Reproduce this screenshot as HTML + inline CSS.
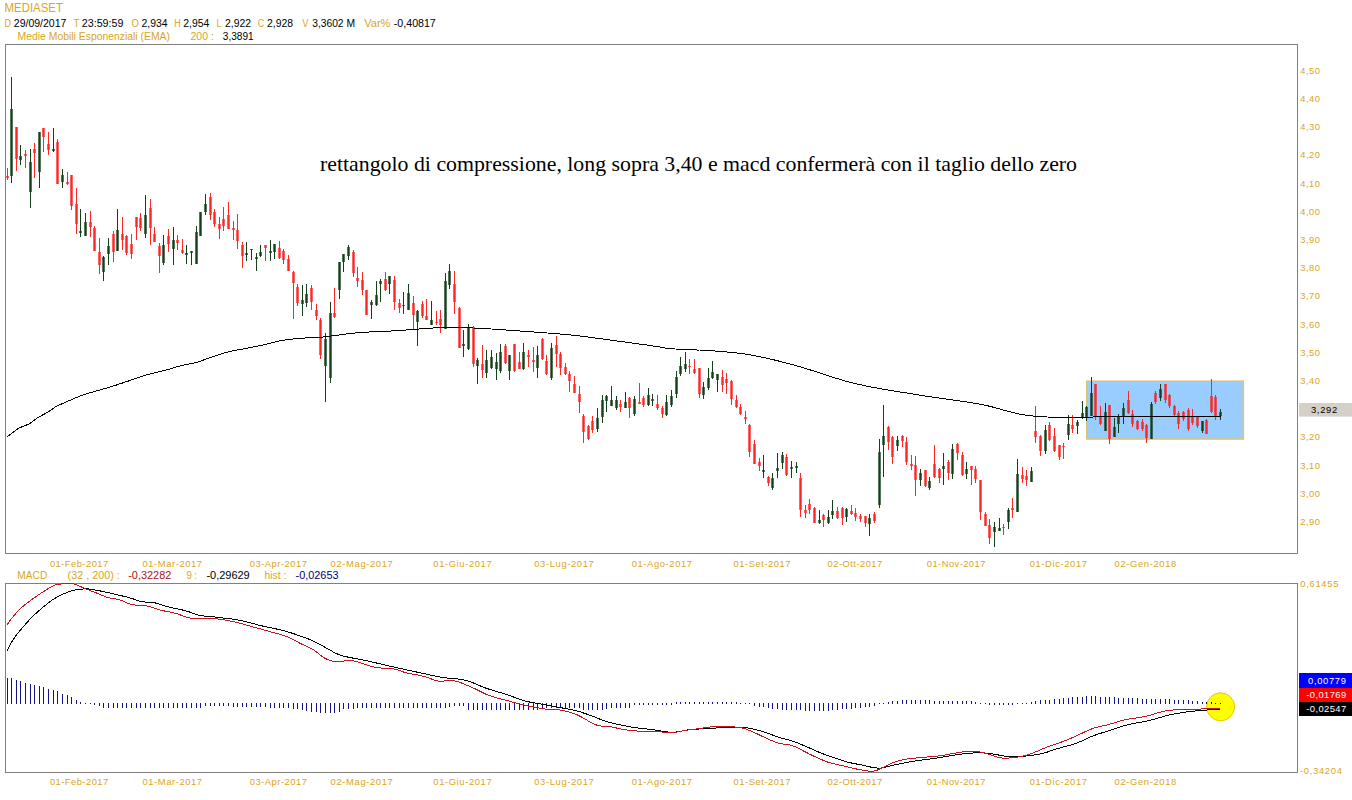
<!DOCTYPE html>
<html lang="it"><head><meta charset="utf-8"><title>MEDIASET</title>
<style>html,body{margin:0;padding:0;background:#fff}body{width:1352px;height:800px;overflow:hidden}svg{display:block}text{font-family:"Liberation Sans",Arial,sans-serif;font-size:10px}.note{font-family:"Liberation Serif","Times New Roman",serif;font-size:22px;fill:#000}</style></head><body>
<svg width="1352" height="800" viewBox="0 0 1352 800">
<rect width="1352" height="800" fill="#fff"/>
<text x="4.6" y="12.4" fill="#DAA520" textLength="58.3" lengthAdjust="spacingAndGlyphs" style="font-size:11.9px">MEDIASET</text>
<text x="4.4" y="26.5" fill="#DAA520" textLength="6.5" lengthAdjust="spacingAndGlyphs">D</text>
<text x="13.8" y="26.5" fill="#000" textLength="52.6" lengthAdjust="spacingAndGlyphs">29/09/2017</text>
<text x="73.6" y="26.5" fill="#DAA520" textLength="6" lengthAdjust="spacingAndGlyphs">T</text>
<text x="81.8" y="26.5" fill="#000" textLength="41.6" lengthAdjust="spacingAndGlyphs">23:59:59</text>
<text x="131.6" y="26.5" fill="#DAA520" textLength="7.4" lengthAdjust="spacingAndGlyphs">O</text>
<text x="141.6" y="26.5" fill="#000" textLength="26" lengthAdjust="spacingAndGlyphs">2,934</text>
<text x="174.3" y="26.5" fill="#DAA520" textLength="6.6" lengthAdjust="spacingAndGlyphs">H</text>
<text x="183.3" y="26.5" fill="#000" textLength="26" lengthAdjust="spacingAndGlyphs">2,954</text>
<text x="216.6" y="26.5" fill="#DAA520" textLength="5" lengthAdjust="spacingAndGlyphs">L</text>
<text x="225" y="26.5" fill="#000" textLength="26" lengthAdjust="spacingAndGlyphs">2,922</text>
<text x="257.7" y="26.5" fill="#DAA520" textLength="6.6" lengthAdjust="spacingAndGlyphs">C</text>
<text x="267" y="26.5" fill="#000" textLength="26" lengthAdjust="spacingAndGlyphs">2,928</text>
<text x="302.3" y="26.5" fill="#DAA520" textLength="6.2" lengthAdjust="spacingAndGlyphs">V</text>
<text x="312.2" y="26.5" fill="#000" textLength="42.8" lengthAdjust="spacingAndGlyphs">3,3602 M</text>
<text x="364.2" y="26.5" fill="#DAA520" textLength="26.3" lengthAdjust="spacingAndGlyphs">Var%</text>
<text x="393.8" y="26.5" fill="#000" textLength="42" lengthAdjust="spacingAndGlyphs">-0,40817</text>
<text x="17.6" y="39.9" fill="#DAA520" textLength="152.4" lengthAdjust="spacingAndGlyphs">Medie Mobili Esponenziali (EMA)</text>
<text x="190.5" y="39.9" fill="#DAA520" textLength="23.5" lengthAdjust="spacingAndGlyphs">200 :</text>
<text x="222.8" y="39.9" fill="#000" textLength="30.8" lengthAdjust="spacingAndGlyphs">3,3891</text>
<g shape-rendering="crispEdges">
<rect x="5.5" y="44.5" width="1292" height="509" fill="none" stroke="#808080"/>
<rect x="5.5" y="583.5" width="1292" height="189" fill="none" stroke="#808080"/>
<rect x="1086.8" y="381.2" width="156.5" height="57.8" fill="#99ccff" stroke="#d6c67a" stroke-width="1.6" shape-rendering="auto"/>
</g>
<text x="1300.3" y="73.7" fill="#DAA520" textLength="19.6" lengthAdjust="spacing" style="font-size:9.4px">4,50</text>
<text x="1300.3" y="101.9" fill="#DAA520" textLength="19.6" lengthAdjust="spacing" style="font-size:9.4px">4,40</text>
<text x="1300.3" y="130.1" fill="#DAA520" textLength="19.6" lengthAdjust="spacing" style="font-size:9.4px">4,30</text>
<text x="1300.3" y="158.3" fill="#DAA520" textLength="19.6" lengthAdjust="spacing" style="font-size:9.4px">4,20</text>
<text x="1300.3" y="186.5" fill="#DAA520" textLength="19.6" lengthAdjust="spacing" style="font-size:9.4px">4,10</text>
<text x="1300.3" y="214.8" fill="#DAA520" textLength="19.6" lengthAdjust="spacing" style="font-size:9.4px">4,00</text>
<text x="1300.3" y="243.0" fill="#DAA520" textLength="19.6" lengthAdjust="spacing" style="font-size:9.4px">3,90</text>
<text x="1300.3" y="271.2" fill="#DAA520" textLength="19.6" lengthAdjust="spacing" style="font-size:9.4px">3,80</text>
<text x="1300.3" y="299.4" fill="#DAA520" textLength="19.6" lengthAdjust="spacing" style="font-size:9.4px">3,70</text>
<text x="1300.3" y="327.6" fill="#DAA520" textLength="19.6" lengthAdjust="spacing" style="font-size:9.4px">3,60</text>
<text x="1300.3" y="355.8" fill="#DAA520" textLength="19.6" lengthAdjust="spacing" style="font-size:9.4px">3,50</text>
<text x="1300.3" y="384.0" fill="#DAA520" textLength="19.6" lengthAdjust="spacing" style="font-size:9.4px">3,40</text>
<text x="1300.3" y="412.2" fill="#DAA520" textLength="19.6" lengthAdjust="spacing" style="font-size:9.4px">3,30</text>
<text x="1300.3" y="440.4" fill="#DAA520" textLength="19.6" lengthAdjust="spacing" style="font-size:9.4px">3,20</text>
<text x="1300.3" y="468.6" fill="#DAA520" textLength="19.6" lengthAdjust="spacing" style="font-size:9.4px">3,10</text>
<text x="1300.3" y="496.9" fill="#DAA520" textLength="19.6" lengthAdjust="spacing" style="font-size:9.4px">3,00</text>
<text x="1300.3" y="525.1" fill="#DAA520" textLength="19.6" lengthAdjust="spacing" style="font-size:9.4px">2,90</text>
<rect x="1299" y="403" width="53" height="13.6" fill="#d4d0c8"/>
<text x="1311" y="412.7" fill="#000" textLength="26.1" lengthAdjust="spacing" style="font-size:9.4px">3,292</text>
<g shape-rendering="crispEdges">
<rect x="7" y="168" width="1" height="12" fill="#ff2626"/>
<rect x="6" y="176" width="3" height="2" fill="#ff2626" fill-opacity=".72"/>
<rect x="7" y="176" width="1" height="2" fill="#ff2626"/>
<rect x="11" y="77" width="1" height="106" fill="#14401a"/>
<rect x="10" y="109" width="3" height="67" fill="#14401a" fill-opacity=".72"/>
<rect x="11" y="109" width="1" height="67" fill="#14401a"/>
<rect x="16" y="127" width="1" height="44" fill="#ff2626"/>
<rect x="15" y="127" width="3" height="32" fill="#ff2626" fill-opacity=".72"/>
<rect x="16" y="127" width="1" height="32" fill="#ff2626"/>
<rect x="20" y="145" width="1" height="20" fill="#14401a"/>
<rect x="19" y="156" width="3" height="4" fill="#14401a" fill-opacity=".72"/>
<rect x="20" y="156" width="1" height="4" fill="#14401a"/>
<rect x="25" y="150" width="1" height="18" fill="#ff2626"/>
<rect x="24" y="154" width="3" height="2" fill="#ff2626" fill-opacity=".72"/>
<rect x="25" y="154" width="1" height="2" fill="#ff2626"/>
<rect x="30" y="149" width="1" height="59" fill="#14401a"/>
<rect x="29" y="162" width="3" height="30" fill="#14401a" fill-opacity=".72"/>
<rect x="30" y="162" width="1" height="30" fill="#14401a"/>
<rect x="34" y="143" width="1" height="35" fill="#ff2626"/>
<rect x="33" y="149" width="3" height="4" fill="#ff2626" fill-opacity=".72"/>
<rect x="34" y="149" width="1" height="4" fill="#ff2626"/>
<rect x="39" y="132" width="1" height="56" fill="#14401a"/>
<rect x="38" y="132" width="3" height="40" fill="#14401a" fill-opacity=".72"/>
<rect x="39" y="132" width="1" height="40" fill="#14401a"/>
<rect x="43" y="128" width="1" height="24" fill="#ff2626"/>
<rect x="42" y="128" width="3" height="9" fill="#ff2626" fill-opacity=".72"/>
<rect x="43" y="128" width="1" height="9" fill="#ff2626"/>
<rect x="48" y="132" width="1" height="23" fill="#ff2626"/>
<rect x="47" y="144" width="3" height="6" fill="#ff2626" fill-opacity=".72"/>
<rect x="48" y="144" width="1" height="6" fill="#ff2626"/>
<rect x="53" y="128" width="1" height="24" fill="#14401a"/>
<rect x="52" y="149" width="3" height="2" fill="#14401a" fill-opacity=".72"/>
<rect x="53" y="149" width="1" height="2" fill="#14401a"/>
<rect x="57" y="139" width="1" height="45" fill="#ff2626"/>
<rect x="56" y="142" width="3" height="42" fill="#ff2626" fill-opacity=".72"/>
<rect x="57" y="142" width="1" height="42" fill="#ff2626"/>
<rect x="62" y="169" width="1" height="19" fill="#14401a"/>
<rect x="61" y="175" width="3" height="7" fill="#14401a" fill-opacity=".72"/>
<rect x="62" y="175" width="1" height="7" fill="#14401a"/>
<rect x="67" y="172" width="1" height="13" fill="#ff2626"/>
<rect x="66" y="182" width="3" height="2" fill="#ff2626" fill-opacity=".72"/>
<rect x="67" y="182" width="1" height="2" fill="#ff2626"/>
<rect x="71" y="175" width="1" height="35" fill="#ff2626"/>
<rect x="70" y="175" width="3" height="31" fill="#ff2626" fill-opacity=".72"/>
<rect x="71" y="175" width="1" height="31" fill="#ff2626"/>
<rect x="76" y="188" width="1" height="46" fill="#ff2626"/>
<rect x="75" y="204" width="3" height="20" fill="#ff2626" fill-opacity=".72"/>
<rect x="76" y="204" width="1" height="20" fill="#ff2626"/>
<rect x="80" y="209" width="1" height="28" fill="#14401a"/>
<rect x="79" y="231" width="3" height="2" fill="#14401a" fill-opacity=".72"/>
<rect x="80" y="231" width="1" height="2" fill="#14401a"/>
<rect x="85" y="213" width="1" height="23" fill="#14401a"/>
<rect x="84" y="222" width="3" height="14" fill="#14401a" fill-opacity=".72"/>
<rect x="85" y="222" width="1" height="14" fill="#14401a"/>
<rect x="90" y="211" width="1" height="26" fill="#ff2626"/>
<rect x="89" y="222" width="3" height="5" fill="#ff2626" fill-opacity=".72"/>
<rect x="90" y="222" width="1" height="5" fill="#ff2626"/>
<rect x="94" y="226" width="1" height="25" fill="#ff2626"/>
<rect x="93" y="228" width="3" height="23" fill="#ff2626" fill-opacity=".72"/>
<rect x="94" y="228" width="1" height="23" fill="#ff2626"/>
<rect x="99" y="238" width="1" height="36" fill="#ff2626"/>
<rect x="98" y="252" width="3" height="13" fill="#ff2626" fill-opacity=".72"/>
<rect x="99" y="252" width="1" height="13" fill="#ff2626"/>
<rect x="103" y="256" width="1" height="25" fill="#14401a"/>
<rect x="102" y="257" width="3" height="15" fill="#14401a" fill-opacity=".72"/>
<rect x="103" y="257" width="1" height="15" fill="#14401a"/>
<rect x="108" y="238" width="1" height="27" fill="#14401a"/>
<rect x="107" y="246" width="3" height="8" fill="#14401a" fill-opacity=".72"/>
<rect x="108" y="246" width="1" height="8" fill="#14401a"/>
<rect x="113" y="231" width="1" height="31" fill="#ff2626"/>
<rect x="112" y="234" width="3" height="18" fill="#ff2626" fill-opacity=".72"/>
<rect x="113" y="234" width="1" height="18" fill="#ff2626"/>
<rect x="117" y="209" width="1" height="42" fill="#14401a"/>
<rect x="116" y="230" width="3" height="21" fill="#14401a" fill-opacity=".72"/>
<rect x="117" y="230" width="1" height="21" fill="#14401a"/>
<rect x="122" y="217" width="1" height="33" fill="#ff2626"/>
<rect x="121" y="234" width="3" height="6" fill="#ff2626" fill-opacity=".72"/>
<rect x="122" y="234" width="1" height="6" fill="#ff2626"/>
<rect x="126" y="235" width="1" height="20" fill="#ff2626"/>
<rect x="125" y="236" width="3" height="17" fill="#ff2626" fill-opacity=".72"/>
<rect x="126" y="236" width="1" height="17" fill="#ff2626"/>
<rect x="131" y="234" width="1" height="25" fill="#ff2626"/>
<rect x="130" y="244" width="3" height="10" fill="#ff2626" fill-opacity=".72"/>
<rect x="131" y="244" width="1" height="10" fill="#ff2626"/>
<rect x="136" y="217" width="1" height="23" fill="#ff2626"/>
<rect x="135" y="217" width="3" height="10" fill="#ff2626" fill-opacity=".72"/>
<rect x="136" y="217" width="1" height="10" fill="#ff2626"/>
<rect x="140" y="213" width="1" height="18" fill="#ff2626"/>
<rect x="139" y="218" width="3" height="10" fill="#ff2626" fill-opacity=".72"/>
<rect x="140" y="218" width="1" height="10" fill="#ff2626"/>
<rect x="145" y="195" width="1" height="43" fill="#14401a"/>
<rect x="144" y="215" width="3" height="19" fill="#14401a" fill-opacity=".72"/>
<rect x="145" y="215" width="1" height="19" fill="#14401a"/>
<rect x="150" y="199" width="1" height="46" fill="#ff2626"/>
<rect x="149" y="208" width="3" height="20" fill="#ff2626" fill-opacity=".72"/>
<rect x="150" y="208" width="1" height="20" fill="#ff2626"/>
<rect x="154" y="227" width="1" height="15" fill="#ff2626"/>
<rect x="153" y="234" width="3" height="8" fill="#ff2626" fill-opacity=".72"/>
<rect x="154" y="234" width="1" height="8" fill="#ff2626"/>
<rect x="159" y="243" width="1" height="30" fill="#ff2626"/>
<rect x="158" y="246" width="3" height="10" fill="#ff2626" fill-opacity=".72"/>
<rect x="159" y="246" width="1" height="10" fill="#ff2626"/>
<rect x="163" y="235" width="1" height="30" fill="#14401a"/>
<rect x="162" y="245" width="3" height="18" fill="#14401a" fill-opacity=".72"/>
<rect x="163" y="245" width="1" height="18" fill="#14401a"/>
<rect x="168" y="229" width="1" height="23" fill="#ff2626"/>
<rect x="167" y="236" width="3" height="8" fill="#ff2626" fill-opacity=".72"/>
<rect x="168" y="236" width="1" height="8" fill="#ff2626"/>
<rect x="173" y="227" width="1" height="38" fill="#14401a"/>
<rect x="172" y="240" width="3" height="9" fill="#14401a" fill-opacity=".72"/>
<rect x="173" y="240" width="1" height="9" fill="#14401a"/>
<rect x="177" y="235" width="1" height="15" fill="#ff2626"/>
<rect x="176" y="240" width="3" height="3" fill="#ff2626" fill-opacity=".72"/>
<rect x="177" y="240" width="1" height="3" fill="#ff2626"/>
<rect x="182" y="239" width="1" height="15" fill="#ff2626"/>
<rect x="181" y="250" width="3" height="3" fill="#ff2626" fill-opacity=".72"/>
<rect x="182" y="250" width="1" height="3" fill="#ff2626"/>
<rect x="186" y="245" width="1" height="19" fill="#14401a"/>
<rect x="185" y="253" width="3" height="2" fill="#14401a" fill-opacity=".72"/>
<rect x="186" y="253" width="1" height="2" fill="#14401a"/>
<rect x="191" y="251" width="1" height="14" fill="#14401a"/>
<rect x="190" y="251" width="3" height="2" fill="#14401a" fill-opacity=".72"/>
<rect x="191" y="251" width="1" height="2" fill="#14401a"/>
<rect x="196" y="226" width="1" height="38" fill="#14401a"/>
<rect x="195" y="232" width="3" height="32" fill="#14401a" fill-opacity=".72"/>
<rect x="196" y="232" width="1" height="32" fill="#14401a"/>
<rect x="200" y="212" width="1" height="24" fill="#14401a"/>
<rect x="199" y="212" width="3" height="24" fill="#14401a" fill-opacity=".72"/>
<rect x="200" y="212" width="1" height="24" fill="#14401a"/>
<rect x="205" y="194" width="1" height="21" fill="#14401a"/>
<rect x="204" y="204" width="3" height="8" fill="#14401a" fill-opacity=".72"/>
<rect x="205" y="204" width="1" height="8" fill="#14401a"/>
<rect x="210" y="193" width="1" height="27" fill="#ff2626"/>
<rect x="209" y="197" width="3" height="18" fill="#ff2626" fill-opacity=".72"/>
<rect x="210" y="197" width="1" height="18" fill="#ff2626"/>
<rect x="214" y="209" width="1" height="18" fill="#ff2626"/>
<rect x="213" y="212" width="3" height="12" fill="#ff2626" fill-opacity=".72"/>
<rect x="214" y="212" width="1" height="12" fill="#ff2626"/>
<rect x="219" y="217" width="1" height="22" fill="#ff2626"/>
<rect x="218" y="224" width="3" height="5" fill="#ff2626" fill-opacity=".72"/>
<rect x="219" y="224" width="1" height="5" fill="#ff2626"/>
<rect x="223" y="207" width="1" height="24" fill="#ff2626"/>
<rect x="222" y="219" width="3" height="7" fill="#ff2626" fill-opacity=".72"/>
<rect x="223" y="219" width="1" height="7" fill="#ff2626"/>
<rect x="228" y="202" width="1" height="27" fill="#ff2626"/>
<rect x="227" y="215" width="3" height="14" fill="#ff2626" fill-opacity=".72"/>
<rect x="228" y="215" width="1" height="14" fill="#ff2626"/>
<rect x="233" y="221" width="1" height="19" fill="#ff2626"/>
<rect x="232" y="228" width="3" height="2" fill="#ff2626" fill-opacity=".72"/>
<rect x="233" y="228" width="1" height="2" fill="#ff2626"/>
<rect x="237" y="214" width="1" height="35" fill="#ff2626"/>
<rect x="236" y="230" width="3" height="11" fill="#ff2626" fill-opacity=".72"/>
<rect x="237" y="230" width="1" height="11" fill="#ff2626"/>
<rect x="242" y="242" width="1" height="26" fill="#ff2626"/>
<rect x="241" y="245" width="3" height="11" fill="#ff2626" fill-opacity=".72"/>
<rect x="242" y="245" width="1" height="11" fill="#ff2626"/>
<rect x="246" y="242" width="1" height="19" fill="#14401a"/>
<rect x="245" y="253" width="3" height="2" fill="#14401a" fill-opacity=".72"/>
<rect x="246" y="253" width="1" height="2" fill="#14401a"/>
<rect x="251" y="249" width="1" height="11" fill="#14401a"/>
<rect x="250" y="249" width="3" height="1" fill="#14401a" fill-opacity=".72"/>
<rect x="251" y="249" width="1" height="1" fill="#14401a"/>
<rect x="256" y="253" width="1" height="18" fill="#14401a"/>
<rect x="255" y="257" width="3" height="2" fill="#14401a" fill-opacity=".72"/>
<rect x="256" y="257" width="1" height="2" fill="#14401a"/>
<rect x="260" y="245" width="1" height="12" fill="#14401a"/>
<rect x="259" y="252" width="3" height="4" fill="#14401a" fill-opacity=".72"/>
<rect x="260" y="252" width="1" height="4" fill="#14401a"/>
<rect x="265" y="245" width="1" height="16" fill="#ff2626"/>
<rect x="264" y="245" width="3" height="3" fill="#ff2626" fill-opacity=".72"/>
<rect x="265" y="245" width="1" height="3" fill="#ff2626"/>
<rect x="270" y="240" width="1" height="21" fill="#14401a"/>
<rect x="269" y="251" width="3" height="2" fill="#14401a" fill-opacity=".72"/>
<rect x="270" y="251" width="1" height="2" fill="#14401a"/>
<rect x="274" y="244" width="1" height="15" fill="#14401a"/>
<rect x="273" y="244" width="3" height="8" fill="#14401a" fill-opacity=".72"/>
<rect x="274" y="244" width="1" height="8" fill="#14401a"/>
<rect x="279" y="241" width="1" height="18" fill="#ff2626"/>
<rect x="278" y="248" width="3" height="10" fill="#ff2626" fill-opacity=".72"/>
<rect x="279" y="248" width="1" height="10" fill="#ff2626"/>
<rect x="283" y="249" width="1" height="15" fill="#ff2626"/>
<rect x="282" y="251" width="3" height="9" fill="#ff2626" fill-opacity=".72"/>
<rect x="283" y="251" width="1" height="9" fill="#ff2626"/>
<rect x="288" y="255" width="1" height="16" fill="#ff2626"/>
<rect x="287" y="259" width="3" height="12" fill="#ff2626" fill-opacity=".72"/>
<rect x="288" y="259" width="1" height="12" fill="#ff2626"/>
<rect x="293" y="271" width="1" height="48" fill="#ff2626"/>
<rect x="292" y="272" width="3" height="11" fill="#ff2626" fill-opacity=".72"/>
<rect x="293" y="272" width="1" height="11" fill="#ff2626"/>
<rect x="297" y="284" width="1" height="22" fill="#ff2626"/>
<rect x="296" y="287" width="3" height="16" fill="#ff2626" fill-opacity=".72"/>
<rect x="297" y="287" width="1" height="16" fill="#ff2626"/>
<rect x="302" y="285" width="1" height="31" fill="#14401a"/>
<rect x="301" y="300" width="3" height="4" fill="#14401a" fill-opacity=".72"/>
<rect x="302" y="300" width="1" height="4" fill="#14401a"/>
<rect x="306" y="284" width="1" height="23" fill="#14401a"/>
<rect x="305" y="294" width="3" height="9" fill="#14401a" fill-opacity=".72"/>
<rect x="306" y="294" width="1" height="9" fill="#14401a"/>
<rect x="311" y="285" width="1" height="25" fill="#ff2626"/>
<rect x="310" y="288" width="3" height="14" fill="#ff2626" fill-opacity=".72"/>
<rect x="311" y="288" width="1" height="14" fill="#ff2626"/>
<rect x="316" y="304" width="1" height="16" fill="#ff2626"/>
<rect x="315" y="310" width="3" height="6" fill="#ff2626" fill-opacity=".72"/>
<rect x="316" y="310" width="1" height="6" fill="#ff2626"/>
<rect x="320" y="318" width="1" height="41" fill="#ff2626"/>
<rect x="319" y="320" width="3" height="35" fill="#ff2626" fill-opacity=".72"/>
<rect x="320" y="320" width="1" height="35" fill="#ff2626"/>
<rect x="325" y="333" width="1" height="69" fill="#14401a"/>
<rect x="324" y="339" width="3" height="27" fill="#14401a" fill-opacity=".72"/>
<rect x="325" y="339" width="1" height="27" fill="#14401a"/>
<rect x="330" y="302" width="1" height="81" fill="#14401a"/>
<rect x="329" y="313" width="3" height="65" fill="#14401a" fill-opacity=".72"/>
<rect x="330" y="313" width="1" height="65" fill="#14401a"/>
<rect x="334" y="288" width="1" height="30" fill="#ff2626"/>
<rect x="333" y="313" width="3" height="4" fill="#ff2626" fill-opacity=".72"/>
<rect x="334" y="313" width="1" height="4" fill="#ff2626"/>
<rect x="339" y="262" width="1" height="37" fill="#14401a"/>
<rect x="338" y="262" width="3" height="28" fill="#14401a" fill-opacity=".72"/>
<rect x="339" y="262" width="1" height="28" fill="#14401a"/>
<rect x="343" y="254" width="1" height="18" fill="#14401a"/>
<rect x="342" y="254" width="3" height="8" fill="#14401a" fill-opacity=".72"/>
<rect x="343" y="254" width="1" height="8" fill="#14401a"/>
<rect x="348" y="245" width="1" height="15" fill="#14401a"/>
<rect x="347" y="247" width="3" height="9" fill="#14401a" fill-opacity=".72"/>
<rect x="348" y="247" width="1" height="9" fill="#14401a"/>
<rect x="353" y="250" width="1" height="27" fill="#ff2626"/>
<rect x="352" y="252" width="3" height="21" fill="#ff2626" fill-opacity=".72"/>
<rect x="353" y="252" width="1" height="21" fill="#ff2626"/>
<rect x="357" y="267" width="1" height="20" fill="#ff2626"/>
<rect x="356" y="278" width="3" height="3" fill="#ff2626" fill-opacity=".72"/>
<rect x="357" y="278" width="1" height="3" fill="#ff2626"/>
<rect x="362" y="272" width="1" height="23" fill="#ff2626"/>
<rect x="361" y="280" width="3" height="10" fill="#ff2626" fill-opacity=".72"/>
<rect x="362" y="280" width="1" height="10" fill="#ff2626"/>
<rect x="366" y="290" width="1" height="25" fill="#ff2626"/>
<rect x="365" y="290" width="3" height="25" fill="#ff2626" fill-opacity=".72"/>
<rect x="366" y="290" width="1" height="25" fill="#ff2626"/>
<rect x="371" y="300" width="1" height="19" fill="#14401a"/>
<rect x="370" y="302" width="3" height="3" fill="#14401a" fill-opacity=".72"/>
<rect x="371" y="302" width="1" height="3" fill="#14401a"/>
<rect x="376" y="281" width="1" height="25" fill="#14401a"/>
<rect x="375" y="295" width="3" height="10" fill="#14401a" fill-opacity=".72"/>
<rect x="376" y="295" width="1" height="10" fill="#14401a"/>
<rect x="380" y="279" width="1" height="23" fill="#14401a"/>
<rect x="379" y="281" width="3" height="3" fill="#14401a" fill-opacity=".72"/>
<rect x="380" y="281" width="1" height="3" fill="#14401a"/>
<rect x="385" y="272" width="1" height="19" fill="#ff2626"/>
<rect x="384" y="279" width="3" height="11" fill="#ff2626" fill-opacity=".72"/>
<rect x="385" y="279" width="1" height="11" fill="#ff2626"/>
<rect x="389" y="276" width="1" height="18" fill="#14401a"/>
<rect x="388" y="276" width="3" height="8" fill="#14401a" fill-opacity=".72"/>
<rect x="389" y="276" width="1" height="8" fill="#14401a"/>
<rect x="394" y="276" width="1" height="34" fill="#ff2626"/>
<rect x="393" y="280" width="3" height="22" fill="#ff2626" fill-opacity=".72"/>
<rect x="394" y="280" width="1" height="22" fill="#ff2626"/>
<rect x="399" y="299" width="1" height="14" fill="#ff2626"/>
<rect x="398" y="303" width="3" height="5" fill="#ff2626" fill-opacity=".72"/>
<rect x="399" y="303" width="1" height="5" fill="#ff2626"/>
<rect x="403" y="292" width="1" height="22" fill="#14401a"/>
<rect x="402" y="305" width="3" height="1" fill="#14401a" fill-opacity=".72"/>
<rect x="403" y="305" width="1" height="1" fill="#14401a"/>
<rect x="408" y="284" width="1" height="26" fill="#14401a"/>
<rect x="407" y="293" width="3" height="17" fill="#14401a" fill-opacity=".72"/>
<rect x="408" y="293" width="1" height="17" fill="#14401a"/>
<rect x="413" y="296" width="1" height="33" fill="#ff2626"/>
<rect x="412" y="303" width="3" height="12" fill="#ff2626" fill-opacity=".72"/>
<rect x="413" y="303" width="1" height="12" fill="#ff2626"/>
<rect x="417" y="310" width="1" height="36" fill="#14401a"/>
<rect x="416" y="311" width="3" height="11" fill="#14401a" fill-opacity=".72"/>
<rect x="417" y="311" width="1" height="11" fill="#14401a"/>
<rect x="422" y="301" width="1" height="17" fill="#ff2626"/>
<rect x="421" y="304" width="3" height="12" fill="#ff2626" fill-opacity=".72"/>
<rect x="422" y="304" width="1" height="12" fill="#ff2626"/>
<rect x="426" y="299" width="1" height="21" fill="#ff2626"/>
<rect x="425" y="316" width="3" height="4" fill="#ff2626" fill-opacity=".72"/>
<rect x="426" y="316" width="1" height="4" fill="#ff2626"/>
<rect x="431" y="301" width="1" height="24" fill="#14401a"/>
<rect x="430" y="320" width="3" height="5" fill="#14401a" fill-opacity=".72"/>
<rect x="431" y="320" width="1" height="5" fill="#14401a"/>
<rect x="436" y="311" width="1" height="14" fill="#ff2626"/>
<rect x="435" y="322" width="3" height="1" fill="#ff2626" fill-opacity=".72"/>
<rect x="436" y="322" width="1" height="1" fill="#ff2626"/>
<rect x="440" y="310" width="1" height="23" fill="#ff2626"/>
<rect x="439" y="319" width="3" height="6" fill="#ff2626" fill-opacity=".72"/>
<rect x="440" y="319" width="1" height="6" fill="#ff2626"/>
<rect x="445" y="273" width="1" height="56" fill="#14401a"/>
<rect x="444" y="281" width="3" height="48" fill="#14401a" fill-opacity=".72"/>
<rect x="445" y="281" width="1" height="48" fill="#14401a"/>
<rect x="449" y="264" width="1" height="25" fill="#14401a"/>
<rect x="448" y="271" width="3" height="14" fill="#14401a" fill-opacity=".72"/>
<rect x="449" y="271" width="1" height="14" fill="#14401a"/>
<rect x="454" y="271" width="1" height="43" fill="#ff2626"/>
<rect x="453" y="284" width="3" height="18" fill="#ff2626" fill-opacity=".72"/>
<rect x="454" y="284" width="1" height="18" fill="#ff2626"/>
<rect x="459" y="307" width="1" height="41" fill="#ff2626"/>
<rect x="458" y="308" width="3" height="40" fill="#ff2626" fill-opacity=".72"/>
<rect x="459" y="308" width="1" height="40" fill="#ff2626"/>
<rect x="463" y="330" width="1" height="27" fill="#14401a"/>
<rect x="462" y="344" width="3" height="2" fill="#14401a" fill-opacity=".72"/>
<rect x="463" y="344" width="1" height="2" fill="#14401a"/>
<rect x="468" y="324" width="1" height="26" fill="#14401a"/>
<rect x="467" y="328" width="3" height="21" fill="#14401a" fill-opacity=".72"/>
<rect x="468" y="328" width="1" height="21" fill="#14401a"/>
<rect x="473" y="326" width="1" height="41" fill="#ff2626"/>
<rect x="472" y="327" width="3" height="37" fill="#ff2626" fill-opacity=".72"/>
<rect x="473" y="327" width="1" height="37" fill="#ff2626"/>
<rect x="477" y="358" width="1" height="26" fill="#14401a"/>
<rect x="476" y="360" width="3" height="6" fill="#14401a" fill-opacity=".72"/>
<rect x="477" y="360" width="1" height="6" fill="#14401a"/>
<rect x="482" y="345" width="1" height="33" fill="#ff2626"/>
<rect x="481" y="364" width="3" height="6" fill="#ff2626" fill-opacity=".72"/>
<rect x="482" y="364" width="1" height="6" fill="#ff2626"/>
<rect x="486" y="350" width="1" height="28" fill="#14401a"/>
<rect x="485" y="360" width="3" height="13" fill="#14401a" fill-opacity=".72"/>
<rect x="486" y="360" width="1" height="13" fill="#14401a"/>
<rect x="491" y="350" width="1" height="19" fill="#14401a"/>
<rect x="490" y="357" width="3" height="11" fill="#14401a" fill-opacity=".72"/>
<rect x="491" y="357" width="1" height="11" fill="#14401a"/>
<rect x="496" y="353" width="1" height="27" fill="#14401a"/>
<rect x="495" y="362" width="3" height="7" fill="#14401a" fill-opacity=".72"/>
<rect x="496" y="362" width="1" height="7" fill="#14401a"/>
<rect x="500" y="344" width="1" height="29" fill="#14401a"/>
<rect x="499" y="352" width="3" height="19" fill="#14401a" fill-opacity=".72"/>
<rect x="500" y="352" width="1" height="19" fill="#14401a"/>
<rect x="505" y="344" width="1" height="20" fill="#ff2626"/>
<rect x="504" y="346" width="3" height="17" fill="#ff2626" fill-opacity=".72"/>
<rect x="505" y="346" width="1" height="17" fill="#ff2626"/>
<rect x="509" y="355" width="1" height="25" fill="#14401a"/>
<rect x="508" y="355" width="3" height="16" fill="#14401a" fill-opacity=".72"/>
<rect x="509" y="355" width="1" height="16" fill="#14401a"/>
<rect x="514" y="344" width="1" height="28" fill="#ff2626"/>
<rect x="513" y="344" width="3" height="27" fill="#ff2626" fill-opacity=".72"/>
<rect x="514" y="344" width="1" height="27" fill="#ff2626"/>
<rect x="519" y="352" width="1" height="17" fill="#ff2626"/>
<rect x="518" y="362" width="3" height="7" fill="#ff2626" fill-opacity=".72"/>
<rect x="519" y="362" width="1" height="7" fill="#ff2626"/>
<rect x="523" y="343" width="1" height="27" fill="#14401a"/>
<rect x="522" y="352" width="3" height="17" fill="#14401a" fill-opacity=".72"/>
<rect x="523" y="352" width="1" height="17" fill="#14401a"/>
<rect x="528" y="350" width="1" height="17" fill="#ff2626"/>
<rect x="527" y="355" width="3" height="2" fill="#ff2626" fill-opacity=".72"/>
<rect x="528" y="355" width="1" height="2" fill="#ff2626"/>
<rect x="533" y="347" width="1" height="25" fill="#ff2626"/>
<rect x="532" y="360" width="3" height="2" fill="#ff2626" fill-opacity=".72"/>
<rect x="533" y="360" width="1" height="2" fill="#ff2626"/>
<rect x="537" y="346" width="1" height="32" fill="#14401a"/>
<rect x="536" y="355" width="3" height="13" fill="#14401a" fill-opacity=".72"/>
<rect x="537" y="355" width="1" height="13" fill="#14401a"/>
<rect x="542" y="338" width="1" height="22" fill="#ff2626"/>
<rect x="541" y="339" width="3" height="20" fill="#ff2626" fill-opacity=".72"/>
<rect x="542" y="339" width="1" height="20" fill="#ff2626"/>
<rect x="546" y="355" width="1" height="20" fill="#ff2626"/>
<rect x="545" y="361" width="3" height="13" fill="#ff2626" fill-opacity=".72"/>
<rect x="546" y="361" width="1" height="13" fill="#ff2626"/>
<rect x="551" y="343" width="1" height="37" fill="#14401a"/>
<rect x="550" y="348" width="3" height="30" fill="#14401a" fill-opacity=".72"/>
<rect x="551" y="348" width="1" height="30" fill="#14401a"/>
<rect x="556" y="336" width="1" height="31" fill="#ff2626"/>
<rect x="555" y="345" width="3" height="9" fill="#ff2626" fill-opacity=".72"/>
<rect x="556" y="345" width="1" height="9" fill="#ff2626"/>
<rect x="560" y="352" width="1" height="23" fill="#ff2626"/>
<rect x="559" y="354" width="3" height="14" fill="#ff2626" fill-opacity=".72"/>
<rect x="560" y="354" width="1" height="14" fill="#ff2626"/>
<rect x="565" y="363" width="1" height="12" fill="#ff2626"/>
<rect x="564" y="367" width="3" height="7" fill="#ff2626" fill-opacity=".72"/>
<rect x="565" y="367" width="1" height="7" fill="#ff2626"/>
<rect x="569" y="371" width="1" height="21" fill="#ff2626"/>
<rect x="568" y="374" width="3" height="7" fill="#ff2626" fill-opacity=".72"/>
<rect x="569" y="374" width="1" height="7" fill="#ff2626"/>
<rect x="574" y="376" width="1" height="17" fill="#ff2626"/>
<rect x="573" y="384" width="3" height="9" fill="#ff2626" fill-opacity=".72"/>
<rect x="574" y="384" width="1" height="9" fill="#ff2626"/>
<rect x="579" y="386" width="1" height="27" fill="#ff2626"/>
<rect x="578" y="394" width="3" height="8" fill="#ff2626" fill-opacity=".72"/>
<rect x="579" y="394" width="1" height="8" fill="#ff2626"/>
<rect x="583" y="414" width="1" height="29" fill="#ff2626"/>
<rect x="582" y="416" width="3" height="16" fill="#ff2626" fill-opacity=".72"/>
<rect x="583" y="416" width="1" height="16" fill="#ff2626"/>
<rect x="588" y="425" width="1" height="15" fill="#ff2626"/>
<rect x="587" y="426" width="3" height="13" fill="#ff2626" fill-opacity=".72"/>
<rect x="588" y="426" width="1" height="13" fill="#ff2626"/>
<rect x="592" y="416" width="1" height="17" fill="#ff2626"/>
<rect x="591" y="421" width="3" height="9" fill="#ff2626" fill-opacity=".72"/>
<rect x="592" y="421" width="1" height="9" fill="#ff2626"/>
<rect x="597" y="408" width="1" height="24" fill="#14401a"/>
<rect x="596" y="418" width="3" height="11" fill="#14401a" fill-opacity=".72"/>
<rect x="597" y="418" width="1" height="11" fill="#14401a"/>
<rect x="602" y="395" width="1" height="28" fill="#14401a"/>
<rect x="601" y="400" width="3" height="17" fill="#14401a" fill-opacity=".72"/>
<rect x="602" y="400" width="1" height="17" fill="#14401a"/>
<rect x="606" y="395" width="1" height="17" fill="#14401a"/>
<rect x="605" y="396" width="3" height="5" fill="#14401a" fill-opacity=".72"/>
<rect x="606" y="396" width="1" height="5" fill="#14401a"/>
<rect x="611" y="386" width="1" height="20" fill="#14401a"/>
<rect x="610" y="400" width="3" height="6" fill="#14401a" fill-opacity=".72"/>
<rect x="611" y="400" width="1" height="6" fill="#14401a"/>
<rect x="616" y="396" width="1" height="14" fill="#14401a"/>
<rect x="615" y="400" width="3" height="8" fill="#14401a" fill-opacity=".72"/>
<rect x="616" y="400" width="1" height="8" fill="#14401a"/>
<rect x="620" y="400" width="1" height="12" fill="#ff2626"/>
<rect x="619" y="404" width="3" height="3" fill="#ff2626" fill-opacity=".72"/>
<rect x="620" y="404" width="1" height="3" fill="#ff2626"/>
<rect x="625" y="392" width="1" height="16" fill="#14401a"/>
<rect x="624" y="402" width="3" height="6" fill="#14401a" fill-opacity=".72"/>
<rect x="625" y="402" width="1" height="6" fill="#14401a"/>
<rect x="629" y="397" width="1" height="21" fill="#ff2626"/>
<rect x="628" y="398" width="3" height="10" fill="#ff2626" fill-opacity=".72"/>
<rect x="629" y="398" width="1" height="10" fill="#ff2626"/>
<rect x="634" y="396" width="1" height="20" fill="#14401a"/>
<rect x="633" y="399" width="3" height="15" fill="#14401a" fill-opacity=".72"/>
<rect x="634" y="399" width="1" height="15" fill="#14401a"/>
<rect x="639" y="383" width="1" height="21" fill="#ff2626"/>
<rect x="638" y="402" width="3" height="2" fill="#ff2626" fill-opacity=".72"/>
<rect x="639" y="402" width="1" height="2" fill="#ff2626"/>
<rect x="643" y="396" width="1" height="11" fill="#ff2626"/>
<rect x="642" y="398" width="3" height="7" fill="#ff2626" fill-opacity=".72"/>
<rect x="643" y="398" width="1" height="7" fill="#ff2626"/>
<rect x="648" y="388" width="1" height="18" fill="#14401a"/>
<rect x="647" y="395" width="3" height="10" fill="#14401a" fill-opacity=".72"/>
<rect x="648" y="395" width="1" height="10" fill="#14401a"/>
<rect x="652" y="394" width="1" height="12" fill="#14401a"/>
<rect x="651" y="399" width="3" height="2" fill="#14401a" fill-opacity=".72"/>
<rect x="652" y="399" width="1" height="2" fill="#14401a"/>
<rect x="657" y="395" width="1" height="15" fill="#ff2626"/>
<rect x="656" y="404" width="3" height="4" fill="#ff2626" fill-opacity=".72"/>
<rect x="657" y="404" width="1" height="4" fill="#ff2626"/>
<rect x="662" y="406" width="1" height="12" fill="#ff2626"/>
<rect x="661" y="408" width="3" height="6" fill="#ff2626" fill-opacity=".72"/>
<rect x="662" y="408" width="1" height="6" fill="#ff2626"/>
<rect x="666" y="395" width="1" height="21" fill="#14401a"/>
<rect x="665" y="402" width="3" height="13" fill="#14401a" fill-opacity=".72"/>
<rect x="666" y="402" width="1" height="13" fill="#14401a"/>
<rect x="671" y="390" width="1" height="17" fill="#14401a"/>
<rect x="670" y="396" width="3" height="9" fill="#14401a" fill-opacity=".72"/>
<rect x="671" y="396" width="1" height="9" fill="#14401a"/>
<rect x="676" y="371" width="1" height="27" fill="#14401a"/>
<rect x="675" y="377" width="3" height="17" fill="#14401a" fill-opacity=".72"/>
<rect x="676" y="377" width="1" height="17" fill="#14401a"/>
<rect x="680" y="357" width="1" height="19" fill="#14401a"/>
<rect x="679" y="366" width="3" height="8" fill="#14401a" fill-opacity=".72"/>
<rect x="680" y="366" width="1" height="8" fill="#14401a"/>
<rect x="685" y="352" width="1" height="20" fill="#14401a"/>
<rect x="684" y="364" width="3" height="5" fill="#14401a" fill-opacity=".72"/>
<rect x="685" y="364" width="1" height="5" fill="#14401a"/>
<rect x="689" y="359" width="1" height="15" fill="#ff2626"/>
<rect x="688" y="366" width="3" height="1" fill="#ff2626" fill-opacity=".72"/>
<rect x="689" y="366" width="1" height="1" fill="#ff2626"/>
<rect x="694" y="359" width="1" height="15" fill="#ff2626"/>
<rect x="693" y="369" width="3" height="4" fill="#ff2626" fill-opacity=".72"/>
<rect x="694" y="369" width="1" height="4" fill="#ff2626"/>
<rect x="699" y="368" width="1" height="30" fill="#ff2626"/>
<rect x="698" y="368" width="3" height="26" fill="#ff2626" fill-opacity=".72"/>
<rect x="699" y="368" width="1" height="26" fill="#ff2626"/>
<rect x="703" y="382" width="1" height="17" fill="#14401a"/>
<rect x="702" y="387" width="3" height="8" fill="#14401a" fill-opacity=".72"/>
<rect x="703" y="387" width="1" height="8" fill="#14401a"/>
<rect x="708" y="368" width="1" height="22" fill="#14401a"/>
<rect x="707" y="378" width="3" height="10" fill="#14401a" fill-opacity=".72"/>
<rect x="708" y="378" width="1" height="10" fill="#14401a"/>
<rect x="712" y="361" width="1" height="18" fill="#14401a"/>
<rect x="711" y="372" width="3" height="6" fill="#14401a" fill-opacity=".72"/>
<rect x="712" y="372" width="1" height="6" fill="#14401a"/>
<rect x="717" y="374" width="1" height="18" fill="#14401a"/>
<rect x="716" y="374" width="3" height="6" fill="#14401a" fill-opacity=".72"/>
<rect x="717" y="374" width="1" height="6" fill="#14401a"/>
<rect x="722" y="370" width="1" height="22" fill="#ff2626"/>
<rect x="721" y="377" width="3" height="8" fill="#ff2626" fill-opacity=".72"/>
<rect x="722" y="377" width="1" height="8" fill="#ff2626"/>
<rect x="726" y="373" width="1" height="21" fill="#ff2626"/>
<rect x="725" y="379" width="3" height="4" fill="#ff2626" fill-opacity=".72"/>
<rect x="726" y="379" width="1" height="4" fill="#ff2626"/>
<rect x="731" y="380" width="1" height="25" fill="#ff2626"/>
<rect x="730" y="381" width="3" height="18" fill="#ff2626" fill-opacity=".72"/>
<rect x="731" y="381" width="1" height="18" fill="#ff2626"/>
<rect x="736" y="395" width="1" height="13" fill="#ff2626"/>
<rect x="735" y="400" width="3" height="7" fill="#ff2626" fill-opacity=".72"/>
<rect x="736" y="400" width="1" height="7" fill="#ff2626"/>
<rect x="740" y="404" width="1" height="11" fill="#ff2626"/>
<rect x="739" y="407" width="3" height="7" fill="#ff2626" fill-opacity=".72"/>
<rect x="740" y="407" width="1" height="7" fill="#ff2626"/>
<rect x="745" y="411" width="1" height="13" fill="#ff2626"/>
<rect x="744" y="417" width="3" height="2" fill="#ff2626" fill-opacity=".72"/>
<rect x="745" y="417" width="1" height="2" fill="#ff2626"/>
<rect x="749" y="424" width="1" height="33" fill="#ff2626"/>
<rect x="748" y="425" width="3" height="27" fill="#ff2626" fill-opacity=".72"/>
<rect x="749" y="425" width="1" height="27" fill="#ff2626"/>
<rect x="754" y="440" width="1" height="24" fill="#ff2626"/>
<rect x="753" y="444" width="3" height="20" fill="#ff2626" fill-opacity=".72"/>
<rect x="754" y="444" width="1" height="20" fill="#ff2626"/>
<rect x="759" y="458" width="1" height="13" fill="#ff2626"/>
<rect x="758" y="462" width="3" height="4" fill="#ff2626" fill-opacity=".72"/>
<rect x="759" y="462" width="1" height="4" fill="#ff2626"/>
<rect x="763" y="455" width="1" height="23" fill="#14401a"/>
<rect x="762" y="470" width="3" height="2" fill="#14401a" fill-opacity=".72"/>
<rect x="763" y="470" width="1" height="2" fill="#14401a"/>
<rect x="768" y="476" width="1" height="10" fill="#ff2626"/>
<rect x="767" y="477" width="3" height="6" fill="#ff2626" fill-opacity=".72"/>
<rect x="768" y="477" width="1" height="6" fill="#ff2626"/>
<rect x="772" y="473" width="1" height="17" fill="#14401a"/>
<rect x="771" y="478" width="3" height="10" fill="#14401a" fill-opacity=".72"/>
<rect x="772" y="478" width="1" height="10" fill="#14401a"/>
<rect x="777" y="453" width="1" height="25" fill="#14401a"/>
<rect x="776" y="468" width="3" height="3" fill="#14401a" fill-opacity=".72"/>
<rect x="777" y="468" width="1" height="3" fill="#14401a"/>
<rect x="782" y="452" width="1" height="17" fill="#14401a"/>
<rect x="781" y="455" width="3" height="8" fill="#14401a" fill-opacity=".72"/>
<rect x="782" y="455" width="1" height="8" fill="#14401a"/>
<rect x="786" y="454" width="1" height="22" fill="#ff2626"/>
<rect x="785" y="457" width="3" height="18" fill="#ff2626" fill-opacity=".72"/>
<rect x="786" y="457" width="1" height="18" fill="#ff2626"/>
<rect x="791" y="461" width="1" height="17" fill="#14401a"/>
<rect x="790" y="467" width="3" height="2" fill="#14401a" fill-opacity=".72"/>
<rect x="791" y="467" width="1" height="2" fill="#14401a"/>
<rect x="796" y="462" width="1" height="11" fill="#14401a"/>
<rect x="795" y="466" width="3" height="2" fill="#14401a" fill-opacity=".72"/>
<rect x="796" y="466" width="1" height="2" fill="#14401a"/>
<rect x="800" y="473" width="1" height="44" fill="#ff2626"/>
<rect x="799" y="478" width="3" height="32" fill="#ff2626" fill-opacity=".72"/>
<rect x="800" y="478" width="1" height="32" fill="#ff2626"/>
<rect x="805" y="505" width="1" height="13" fill="#ff2626"/>
<rect x="804" y="510" width="3" height="3" fill="#ff2626" fill-opacity=".72"/>
<rect x="805" y="510" width="1" height="3" fill="#ff2626"/>
<rect x="809" y="499" width="1" height="15" fill="#ff2626"/>
<rect x="808" y="504" width="3" height="6" fill="#ff2626" fill-opacity=".72"/>
<rect x="809" y="504" width="1" height="6" fill="#ff2626"/>
<rect x="814" y="507" width="1" height="16" fill="#ff2626"/>
<rect x="813" y="508" width="3" height="15" fill="#ff2626" fill-opacity=".72"/>
<rect x="814" y="508" width="1" height="15" fill="#ff2626"/>
<rect x="819" y="510" width="1" height="14" fill="#14401a"/>
<rect x="818" y="520" width="3" height="3" fill="#14401a" fill-opacity=".72"/>
<rect x="819" y="520" width="1" height="3" fill="#14401a"/>
<rect x="823" y="514" width="1" height="13" fill="#ff2626"/>
<rect x="822" y="515" width="3" height="5" fill="#ff2626" fill-opacity=".72"/>
<rect x="823" y="515" width="1" height="5" fill="#ff2626"/>
<rect x="828" y="510" width="1" height="14" fill="#14401a"/>
<rect x="827" y="517" width="3" height="6" fill="#14401a" fill-opacity=".72"/>
<rect x="828" y="517" width="1" height="6" fill="#14401a"/>
<rect x="832" y="500" width="1" height="19" fill="#14401a"/>
<rect x="831" y="511" width="3" height="4" fill="#14401a" fill-opacity=".72"/>
<rect x="832" y="511" width="1" height="4" fill="#14401a"/>
<rect x="837" y="507" width="1" height="12" fill="#ff2626"/>
<rect x="836" y="511" width="3" height="7" fill="#ff2626" fill-opacity=".72"/>
<rect x="837" y="511" width="1" height="7" fill="#ff2626"/>
<rect x="842" y="507" width="1" height="18" fill="#ff2626"/>
<rect x="841" y="508" width="3" height="10" fill="#ff2626" fill-opacity=".72"/>
<rect x="842" y="508" width="1" height="10" fill="#ff2626"/>
<rect x="846" y="508" width="1" height="14" fill="#14401a"/>
<rect x="845" y="509" width="3" height="8" fill="#14401a" fill-opacity=".72"/>
<rect x="846" y="509" width="1" height="8" fill="#14401a"/>
<rect x="851" y="505" width="1" height="10" fill="#ff2626"/>
<rect x="850" y="511" width="3" height="3" fill="#ff2626" fill-opacity=".72"/>
<rect x="851" y="511" width="1" height="3" fill="#ff2626"/>
<rect x="855" y="508" width="1" height="13" fill="#ff2626"/>
<rect x="854" y="513" width="3" height="4" fill="#ff2626" fill-opacity=".72"/>
<rect x="855" y="513" width="1" height="4" fill="#ff2626"/>
<rect x="860" y="514" width="1" height="8" fill="#ff2626"/>
<rect x="859" y="516" width="3" height="3" fill="#ff2626" fill-opacity=".72"/>
<rect x="860" y="516" width="1" height="3" fill="#ff2626"/>
<rect x="865" y="516" width="1" height="11" fill="#ff2626"/>
<rect x="864" y="516" width="3" height="7" fill="#ff2626" fill-opacity=".72"/>
<rect x="865" y="516" width="1" height="7" fill="#ff2626"/>
<rect x="869" y="514" width="1" height="22" fill="#14401a"/>
<rect x="868" y="518" width="3" height="6" fill="#14401a" fill-opacity=".72"/>
<rect x="869" y="518" width="1" height="6" fill="#14401a"/>
<rect x="874" y="512" width="1" height="11" fill="#ff2626"/>
<rect x="873" y="514" width="3" height="7" fill="#ff2626" fill-opacity=".72"/>
<rect x="874" y="514" width="1" height="7" fill="#ff2626"/>
<rect x="879" y="439" width="1" height="69" fill="#14401a"/>
<rect x="878" y="452" width="3" height="53" fill="#14401a" fill-opacity=".72"/>
<rect x="879" y="452" width="1" height="53" fill="#14401a"/>
<rect x="883" y="405" width="1" height="72" fill="#14401a"/>
<rect x="882" y="436" width="3" height="9" fill="#14401a" fill-opacity=".72"/>
<rect x="883" y="436" width="1" height="9" fill="#14401a"/>
<rect x="888" y="426" width="1" height="24" fill="#ff2626"/>
<rect x="887" y="427" width="3" height="15" fill="#ff2626" fill-opacity=".72"/>
<rect x="888" y="427" width="1" height="15" fill="#ff2626"/>
<rect x="892" y="436" width="1" height="28" fill="#ff2626"/>
<rect x="891" y="437" width="3" height="20" fill="#ff2626" fill-opacity=".72"/>
<rect x="892" y="437" width="1" height="20" fill="#ff2626"/>
<rect x="897" y="436" width="1" height="15" fill="#14401a"/>
<rect x="896" y="440" width="3" height="6" fill="#14401a" fill-opacity=".72"/>
<rect x="897" y="440" width="1" height="6" fill="#14401a"/>
<rect x="902" y="435" width="1" height="12" fill="#ff2626"/>
<rect x="901" y="436" width="3" height="5" fill="#ff2626" fill-opacity=".72"/>
<rect x="902" y="436" width="1" height="5" fill="#ff2626"/>
<rect x="906" y="437" width="1" height="28" fill="#ff2626"/>
<rect x="905" y="442" width="3" height="20" fill="#ff2626" fill-opacity=".72"/>
<rect x="906" y="442" width="1" height="20" fill="#ff2626"/>
<rect x="911" y="455" width="1" height="15" fill="#ff2626"/>
<rect x="910" y="464" width="3" height="2" fill="#ff2626" fill-opacity=".72"/>
<rect x="911" y="464" width="1" height="2" fill="#ff2626"/>
<rect x="915" y="456" width="1" height="40" fill="#ff2626"/>
<rect x="914" y="465" width="3" height="15" fill="#ff2626" fill-opacity=".72"/>
<rect x="915" y="465" width="1" height="15" fill="#ff2626"/>
<rect x="920" y="469" width="1" height="17" fill="#14401a"/>
<rect x="919" y="473" width="3" height="7" fill="#14401a" fill-opacity=".72"/>
<rect x="920" y="473" width="1" height="7" fill="#14401a"/>
<rect x="925" y="470" width="1" height="17" fill="#ff2626"/>
<rect x="924" y="470" width="3" height="16" fill="#ff2626" fill-opacity=".72"/>
<rect x="925" y="470" width="1" height="16" fill="#ff2626"/>
<rect x="929" y="477" width="1" height="13" fill="#14401a"/>
<rect x="928" y="481" width="3" height="7" fill="#14401a" fill-opacity=".72"/>
<rect x="929" y="481" width="1" height="7" fill="#14401a"/>
<rect x="934" y="445" width="1" height="33" fill="#ff2626"/>
<rect x="933" y="464" width="3" height="13" fill="#ff2626" fill-opacity=".72"/>
<rect x="934" y="464" width="1" height="13" fill="#ff2626"/>
<rect x="939" y="468" width="1" height="15" fill="#ff2626"/>
<rect x="938" y="469" width="3" height="9" fill="#ff2626" fill-opacity=".72"/>
<rect x="939" y="469" width="1" height="9" fill="#ff2626"/>
<rect x="943" y="453" width="1" height="32" fill="#14401a"/>
<rect x="942" y="466" width="3" height="3" fill="#14401a" fill-opacity=".72"/>
<rect x="943" y="466" width="1" height="3" fill="#14401a"/>
<rect x="948" y="460" width="1" height="20" fill="#ff2626"/>
<rect x="947" y="462" width="3" height="11" fill="#ff2626" fill-opacity=".72"/>
<rect x="948" y="462" width="1" height="11" fill="#ff2626"/>
<rect x="952" y="444" width="1" height="35" fill="#14401a"/>
<rect x="951" y="449" width="3" height="25" fill="#14401a" fill-opacity=".72"/>
<rect x="952" y="449" width="1" height="25" fill="#14401a"/>
<rect x="957" y="443" width="1" height="17" fill="#ff2626"/>
<rect x="956" y="444" width="3" height="9" fill="#ff2626" fill-opacity=".72"/>
<rect x="957" y="444" width="1" height="9" fill="#ff2626"/>
<rect x="962" y="452" width="1" height="24" fill="#ff2626"/>
<rect x="961" y="455" width="3" height="20" fill="#ff2626" fill-opacity=".72"/>
<rect x="962" y="455" width="1" height="20" fill="#ff2626"/>
<rect x="966" y="462" width="1" height="17" fill="#14401a"/>
<rect x="965" y="469" width="3" height="5" fill="#14401a" fill-opacity=".72"/>
<rect x="966" y="469" width="1" height="5" fill="#14401a"/>
<rect x="971" y="466" width="1" height="19" fill="#ff2626"/>
<rect x="970" y="466" width="3" height="4" fill="#ff2626" fill-opacity=".72"/>
<rect x="971" y="466" width="1" height="4" fill="#ff2626"/>
<rect x="975" y="466" width="1" height="17" fill="#ff2626"/>
<rect x="974" y="469" width="3" height="10" fill="#ff2626" fill-opacity=".72"/>
<rect x="975" y="469" width="1" height="10" fill="#ff2626"/>
<rect x="980" y="480" width="1" height="40" fill="#ff2626"/>
<rect x="979" y="480" width="3" height="32" fill="#ff2626" fill-opacity=".72"/>
<rect x="980" y="480" width="1" height="32" fill="#ff2626"/>
<rect x="985" y="512" width="1" height="14" fill="#ff2626"/>
<rect x="984" y="514" width="3" height="12" fill="#ff2626" fill-opacity=".72"/>
<rect x="985" y="514" width="1" height="12" fill="#ff2626"/>
<rect x="989" y="519" width="1" height="25" fill="#ff2626"/>
<rect x="988" y="525" width="3" height="13" fill="#ff2626" fill-opacity=".72"/>
<rect x="989" y="525" width="1" height="13" fill="#ff2626"/>
<rect x="994" y="522" width="1" height="25" fill="#14401a"/>
<rect x="993" y="527" width="3" height="5" fill="#14401a" fill-opacity=".72"/>
<rect x="994" y="527" width="1" height="5" fill="#14401a"/>
<rect x="999" y="518" width="1" height="13" fill="#14401a"/>
<rect x="998" y="528" width="3" height="3" fill="#14401a" fill-opacity=".72"/>
<rect x="999" y="528" width="1" height="3" fill="#14401a"/>
<rect x="1003" y="524" width="1" height="11" fill="#ff2626"/>
<rect x="1002" y="527" width="3" height="1" fill="#ff2626" fill-opacity=".72"/>
<rect x="1003" y="527" width="1" height="1" fill="#ff2626"/>
<rect x="1008" y="508" width="1" height="21" fill="#14401a"/>
<rect x="1007" y="510" width="3" height="12" fill="#14401a" fill-opacity=".72"/>
<rect x="1008" y="510" width="1" height="12" fill="#14401a"/>
<rect x="1012" y="498" width="1" height="20" fill="#ff2626"/>
<rect x="1011" y="508" width="3" height="2" fill="#ff2626" fill-opacity=".72"/>
<rect x="1012" y="508" width="1" height="2" fill="#ff2626"/>
<rect x="1017" y="459" width="1" height="53" fill="#14401a"/>
<rect x="1016" y="474" width="3" height="38" fill="#14401a" fill-opacity=".72"/>
<rect x="1017" y="474" width="1" height="38" fill="#14401a"/>
<rect x="1022" y="467" width="1" height="16" fill="#ff2626"/>
<rect x="1021" y="475" width="3" height="4" fill="#ff2626" fill-opacity=".72"/>
<rect x="1022" y="475" width="1" height="4" fill="#ff2626"/>
<rect x="1026" y="470" width="1" height="16" fill="#ff2626"/>
<rect x="1025" y="476" width="3" height="4" fill="#ff2626" fill-opacity=".72"/>
<rect x="1026" y="476" width="1" height="4" fill="#ff2626"/>
<rect x="1031" y="467" width="1" height="15" fill="#14401a"/>
<rect x="1030" y="471" width="3" height="11" fill="#14401a" fill-opacity=".72"/>
<rect x="1031" y="471" width="1" height="11" fill="#14401a"/>
<rect x="1035" y="406" width="1" height="37" fill="#ff2626"/>
<rect x="1034" y="431" width="3" height="6" fill="#ff2626" fill-opacity=".72"/>
<rect x="1035" y="431" width="1" height="6" fill="#ff2626"/>
<rect x="1040" y="435" width="1" height="21" fill="#ff2626"/>
<rect x="1039" y="436" width="3" height="15" fill="#ff2626" fill-opacity=".72"/>
<rect x="1040" y="436" width="1" height="15" fill="#ff2626"/>
<rect x="1045" y="425" width="1" height="29" fill="#14401a"/>
<rect x="1044" y="430" width="3" height="21" fill="#14401a" fill-opacity=".72"/>
<rect x="1045" y="430" width="1" height="21" fill="#14401a"/>
<rect x="1049" y="422" width="1" height="19" fill="#ff2626"/>
<rect x="1048" y="425" width="3" height="15" fill="#ff2626" fill-opacity=".72"/>
<rect x="1049" y="425" width="1" height="15" fill="#ff2626"/>
<rect x="1054" y="428" width="1" height="24" fill="#ff2626"/>
<rect x="1053" y="436" width="3" height="15" fill="#ff2626" fill-opacity=".72"/>
<rect x="1054" y="436" width="1" height="15" fill="#ff2626"/>
<rect x="1059" y="445" width="1" height="15" fill="#ff2626"/>
<rect x="1058" y="445" width="3" height="12" fill="#ff2626" fill-opacity=".72"/>
<rect x="1059" y="445" width="1" height="12" fill="#ff2626"/>
<rect x="1063" y="443" width="1" height="16" fill="#ff2626"/>
<rect x="1062" y="446" width="3" height="1" fill="#ff2626" fill-opacity=".72"/>
<rect x="1063" y="446" width="1" height="1" fill="#ff2626"/>
<rect x="1068" y="415" width="1" height="25" fill="#14401a"/>
<rect x="1067" y="424" width="3" height="11" fill="#14401a" fill-opacity=".72"/>
<rect x="1068" y="424" width="1" height="11" fill="#14401a"/>
<rect x="1072" y="415" width="1" height="18" fill="#ff2626"/>
<rect x="1071" y="425" width="3" height="4" fill="#ff2626" fill-opacity=".72"/>
<rect x="1072" y="425" width="1" height="4" fill="#ff2626"/>
<rect x="1077" y="420" width="1" height="14" fill="#14401a"/>
<rect x="1076" y="422" width="3" height="4" fill="#14401a" fill-opacity=".72"/>
<rect x="1077" y="422" width="1" height="4" fill="#14401a"/>
<rect x="1082" y="401" width="1" height="18" fill="#14401a"/>
<rect x="1081" y="413" width="3" height="5" fill="#14401a" fill-opacity=".72"/>
<rect x="1082" y="413" width="1" height="5" fill="#14401a"/>
<rect x="1086" y="406" width="1" height="15" fill="#14401a"/>
<rect x="1085" y="407" width="3" height="11" fill="#14401a" fill-opacity=".72"/>
<rect x="1086" y="407" width="1" height="11" fill="#14401a"/>
<rect x="1091" y="377" width="1" height="39" fill="#14401a"/>
<rect x="1090" y="393" width="3" height="23" fill="#14401a" fill-opacity=".72"/>
<rect x="1091" y="393" width="1" height="23" fill="#14401a"/>
<rect x="1095" y="384" width="1" height="36" fill="#ff2626"/>
<rect x="1094" y="384" width="3" height="32" fill="#ff2626" fill-opacity=".72"/>
<rect x="1095" y="384" width="1" height="32" fill="#ff2626"/>
<rect x="1100" y="406" width="1" height="19" fill="#ff2626"/>
<rect x="1099" y="416" width="3" height="8" fill="#ff2626" fill-opacity=".72"/>
<rect x="1100" y="416" width="1" height="8" fill="#ff2626"/>
<rect x="1105" y="403" width="1" height="28" fill="#14401a"/>
<rect x="1104" y="412" width="3" height="19" fill="#14401a" fill-opacity=".72"/>
<rect x="1105" y="412" width="1" height="19" fill="#14401a"/>
<rect x="1109" y="405" width="1" height="39" fill="#ff2626"/>
<rect x="1108" y="405" width="3" height="34" fill="#ff2626" fill-opacity=".72"/>
<rect x="1109" y="405" width="1" height="34" fill="#ff2626"/>
<rect x="1114" y="418" width="1" height="19" fill="#14401a"/>
<rect x="1113" y="427" width="3" height="10" fill="#14401a" fill-opacity=".72"/>
<rect x="1114" y="427" width="1" height="10" fill="#14401a"/>
<rect x="1118" y="414" width="1" height="19" fill="#14401a"/>
<rect x="1117" y="416" width="3" height="8" fill="#14401a" fill-opacity=".72"/>
<rect x="1118" y="416" width="1" height="8" fill="#14401a"/>
<rect x="1123" y="403" width="1" height="21" fill="#14401a"/>
<rect x="1122" y="408" width="3" height="9" fill="#14401a" fill-opacity=".72"/>
<rect x="1123" y="408" width="1" height="9" fill="#14401a"/>
<rect x="1128" y="391" width="1" height="23" fill="#ff2626"/>
<rect x="1127" y="400" width="3" height="13" fill="#ff2626" fill-opacity=".72"/>
<rect x="1128" y="400" width="1" height="13" fill="#ff2626"/>
<rect x="1132" y="410" width="1" height="17" fill="#ff2626"/>
<rect x="1131" y="414" width="3" height="10" fill="#ff2626" fill-opacity=".72"/>
<rect x="1132" y="414" width="1" height="10" fill="#ff2626"/>
<rect x="1137" y="420" width="1" height="10" fill="#ff2626"/>
<rect x="1136" y="421" width="3" height="8" fill="#ff2626" fill-opacity=".72"/>
<rect x="1137" y="421" width="1" height="8" fill="#ff2626"/>
<rect x="1142" y="419" width="1" height="12" fill="#ff2626"/>
<rect x="1141" y="422" width="3" height="7" fill="#ff2626" fill-opacity=".72"/>
<rect x="1142" y="422" width="1" height="7" fill="#ff2626"/>
<rect x="1146" y="424" width="1" height="19" fill="#ff2626"/>
<rect x="1145" y="425" width="3" height="13" fill="#ff2626" fill-opacity=".72"/>
<rect x="1146" y="425" width="1" height="13" fill="#ff2626"/>
<rect x="1151" y="402" width="1" height="37" fill="#14401a"/>
<rect x="1150" y="404" width="3" height="35" fill="#14401a" fill-opacity=".72"/>
<rect x="1151" y="404" width="1" height="35" fill="#14401a"/>
<rect x="1155" y="391" width="1" height="13" fill="#ff2626"/>
<rect x="1154" y="393" width="3" height="9" fill="#ff2626" fill-opacity=".72"/>
<rect x="1155" y="393" width="1" height="9" fill="#ff2626"/>
<rect x="1160" y="384" width="1" height="17" fill="#14401a"/>
<rect x="1159" y="389" width="3" height="9" fill="#14401a" fill-opacity=".72"/>
<rect x="1160" y="389" width="1" height="9" fill="#14401a"/>
<rect x="1165" y="384" width="1" height="19" fill="#ff2626"/>
<rect x="1164" y="384" width="3" height="16" fill="#ff2626" fill-opacity=".72"/>
<rect x="1165" y="384" width="1" height="16" fill="#ff2626"/>
<rect x="1169" y="394" width="1" height="14" fill="#ff2626"/>
<rect x="1168" y="395" width="3" height="11" fill="#ff2626" fill-opacity=".72"/>
<rect x="1169" y="395" width="1" height="11" fill="#ff2626"/>
<rect x="1174" y="405" width="1" height="12" fill="#ff2626"/>
<rect x="1173" y="406" width="3" height="9" fill="#ff2626" fill-opacity=".72"/>
<rect x="1174" y="406" width="1" height="9" fill="#ff2626"/>
<rect x="1178" y="411" width="1" height="18" fill="#ff2626"/>
<rect x="1177" y="413" width="3" height="11" fill="#ff2626" fill-opacity=".72"/>
<rect x="1178" y="413" width="1" height="11" fill="#ff2626"/>
<rect x="1183" y="411" width="1" height="10" fill="#ff2626"/>
<rect x="1182" y="412" width="3" height="7" fill="#ff2626" fill-opacity=".72"/>
<rect x="1183" y="412" width="1" height="7" fill="#ff2626"/>
<rect x="1188" y="408" width="1" height="23" fill="#ff2626"/>
<rect x="1187" y="410" width="3" height="19" fill="#ff2626" fill-opacity=".72"/>
<rect x="1188" y="410" width="1" height="19" fill="#ff2626"/>
<rect x="1192" y="409" width="1" height="16" fill="#ff2626"/>
<rect x="1191" y="416" width="3" height="7" fill="#ff2626" fill-opacity=".72"/>
<rect x="1192" y="416" width="1" height="7" fill="#ff2626"/>
<rect x="1197" y="416" width="1" height="12" fill="#ff2626"/>
<rect x="1196" y="417" width="3" height="9" fill="#ff2626" fill-opacity=".72"/>
<rect x="1197" y="417" width="1" height="9" fill="#ff2626"/>
<rect x="1202" y="421" width="1" height="12" fill="#14401a"/>
<rect x="1201" y="421" width="3" height="10" fill="#14401a" fill-opacity=".72"/>
<rect x="1202" y="421" width="1" height="10" fill="#14401a"/>
<rect x="1206" y="419" width="1" height="15" fill="#ff2626"/>
<rect x="1205" y="420" width="3" height="14" fill="#ff2626" fill-opacity=".72"/>
<rect x="1206" y="420" width="1" height="14" fill="#ff2626"/>
<rect x="1211" y="379" width="1" height="34" fill="#ff2626"/>
<rect x="1210" y="396" width="3" height="16" fill="#ff2626" fill-opacity=".72"/>
<rect x="1211" y="396" width="1" height="16" fill="#ff2626"/>
<rect x="1215" y="395" width="1" height="25" fill="#ff2626"/>
<rect x="1214" y="397" width="3" height="19" fill="#ff2626" fill-opacity=".72"/>
<rect x="1215" y="397" width="1" height="19" fill="#ff2626"/>
<rect x="1220" y="409" width="1" height="11" fill="#14401a"/>
<rect x="1219" y="412" width="3" height="4" fill="#14401a" fill-opacity=".72"/>
<rect x="1220" y="412" width="1" height="4" fill="#14401a"/>
</g>
<polyline points="7.3,436.7 9.3,435.2 11.3,433.6 13.3,432.1 15.3,430.6 17.3,429.2 19.3,428.0 21.3,427.1 23.3,426.3 25.3,425.5 27.3,424.7 29.3,423.7 31.3,422.4 33.3,420.8 35.3,419.3 37.3,418.0 39.3,416.8 41.3,415.7 43.3,414.6 45.3,413.5 47.3,412.4 49.3,411.2 51.3,409.8 53.3,408.4 55.3,407.0 57.3,406.0 59.3,405.0 61.3,404.1 63.3,403.2 65.3,402.3 67.3,401.5 69.3,400.6 71.3,399.8 73.3,398.9 75.3,398.0 77.3,397.2 79.3,396.3 81.3,395.5 83.3,394.8 85.3,394.1 87.3,393.5 89.3,392.9 91.3,392.4 93.3,391.8 95.3,391.3 97.3,390.7 99.3,390.1 101.3,389.6 103.3,389.0 105.3,388.4 107.3,387.9 109.3,387.3 111.3,386.6 113.3,386.0 115.3,385.4 117.3,384.7 119.3,384.0 121.3,383.4 123.3,382.7 125.3,382.0 127.3,381.4 129.3,380.7 131.3,380.0 133.3,379.3 135.3,378.6 137.3,377.9 139.3,377.2 141.3,376.5 143.3,375.9 145.3,375.2 147.3,374.6 149.3,374.1 151.3,373.6 153.3,373.1 155.3,372.6 157.3,372.1 159.3,371.7 161.3,371.2 163.3,370.7 165.3,370.2 167.3,369.6 169.3,369.1 171.3,368.5 173.3,367.9 175.3,367.3 177.3,366.7 179.3,366.2 181.3,365.6 183.3,365.1 185.3,364.7 187.3,364.3 189.3,364.0 191.3,363.6 193.3,363.2 195.3,362.7 197.3,362.1 199.3,361.5 201.3,360.8 203.3,360.1 205.3,359.4 207.3,358.7 209.3,358.0 211.3,357.3 213.3,356.6 215.3,355.9 217.3,355.3 219.3,354.6 221.3,353.9 223.3,353.3 225.3,352.7 227.3,352.1 229.3,351.6 231.3,351.2 233.3,350.8 235.3,350.4 237.3,350.0 239.3,349.7 241.3,349.3 243.3,348.9 245.3,348.5 247.3,348.2 249.3,347.8 251.3,347.4 253.3,347.0 255.3,346.6 257.3,346.2 259.3,345.8 261.3,345.4 263.3,345.0 265.3,344.5 267.3,344.0 269.3,343.5 271.3,342.9 273.3,342.4 275.3,341.9 277.3,341.4 279.3,341.0 281.3,340.6 283.3,340.3 285.3,339.9 287.3,339.7 289.3,339.4 291.3,339.2 293.3,339.0 295.3,338.8 297.3,338.6 299.3,338.4 301.3,338.2 303.3,338.1 305.3,338.0 307.3,337.9 309.3,337.8 311.3,337.7 313.3,337.6 315.3,337.6 317.3,337.5 319.3,337.3 321.3,337.2 323.3,337.0 325.3,336.8 327.3,336.5 329.3,336.3 331.3,336.0 333.3,335.8 335.3,335.5 337.3,335.2 339.3,334.9 341.3,334.6 343.3,334.4 345.3,334.1 347.3,333.8 349.3,333.6 351.3,333.4 353.3,333.2 355.3,333.0 357.3,332.8 359.3,332.7 361.3,332.5 363.3,332.4 365.3,332.3 367.3,332.2 369.3,332.0 371.3,331.9 373.3,331.9 375.3,331.8 377.3,331.7 379.3,331.6 381.3,331.5 383.3,331.4 385.3,331.3 387.3,331.2 389.3,331.1 391.3,331.0 393.3,330.9 395.3,330.8 397.3,330.7 399.3,330.5 401.3,330.4 403.3,330.2 405.3,330.1 407.3,329.9 409.3,329.8 411.3,329.6 413.3,329.5 415.3,329.3 417.3,329.2 419.3,329.0 421.3,328.9 423.3,328.7 425.3,328.6 427.3,328.4 429.3,328.3 431.3,328.2 433.3,328.0 435.3,327.9 437.3,327.8 439.3,327.7 441.3,327.6 443.3,327.6 445.3,327.5 447.3,327.4 449.3,327.4 451.3,327.4 453.3,327.4 455.3,327.4 457.3,327.5 459.3,327.5 461.3,327.6 463.3,327.6 465.3,327.7 467.3,327.8 469.3,327.8 471.3,327.9 473.3,328.0 475.3,328.1 477.3,328.2 479.3,328.3 481.3,328.4 483.3,328.5 485.3,328.6 487.3,328.7 489.3,328.9 491.3,329.0 493.3,329.1 495.3,329.2 497.3,329.4 499.3,329.5 501.3,329.6 503.3,329.8 505.3,329.9 507.3,330.1 509.3,330.2 511.3,330.4 513.3,330.5 515.3,330.6 517.3,330.8 519.3,330.9 521.3,331.1 523.3,331.2 525.3,331.4 527.3,331.5 529.3,331.6 531.3,331.8 533.3,331.9 535.3,332.1 537.3,332.2 539.3,332.4 541.3,332.5 543.3,332.7 545.3,332.8 547.3,333.0 549.3,333.1 551.3,333.3 553.3,333.4 555.3,333.6 557.3,333.8 559.3,333.9 561.3,334.1 563.3,334.3 565.3,334.4 567.3,334.6 569.3,334.8 571.3,335.0 573.3,335.2 575.3,335.5 577.3,335.7 579.3,335.9 581.3,336.2 583.3,336.4 585.3,336.7 587.3,336.9 589.3,337.2 591.3,337.5 593.3,337.7 595.3,338.0 597.3,338.3 599.3,338.5 601.3,338.8 603.3,339.1 605.3,339.3 607.3,339.6 609.3,339.9 611.3,340.1 613.3,340.4 615.3,340.7 617.3,341.0 619.3,341.2 621.3,341.5 623.3,341.8 625.3,342.1 627.3,342.3 629.3,342.6 631.3,342.9 633.3,343.2 635.3,343.4 637.3,343.7 639.3,344.0 641.3,344.3 643.3,344.6 645.3,344.8 647.3,345.1 649.3,345.4 651.3,345.7 653.3,346.0 655.3,346.2 657.3,346.6 659.3,346.9 661.3,347.3 663.3,347.7 665.3,348.0 667.3,348.3 669.3,348.5 671.3,348.7 673.3,348.8 675.3,349.0 677.3,349.1 679.3,349.2 681.3,349.3 683.3,349.4 685.3,349.5 687.3,349.6 689.3,349.6 691.3,349.7 693.3,349.8 695.3,349.9 697.3,350.0 699.3,350.0 701.3,350.1 703.3,350.2 705.3,350.3 707.3,350.4 709.3,350.6 711.3,350.7 713.3,350.8 715.3,351.0 717.3,351.2 719.3,351.3 721.3,351.5 723.3,351.6 725.3,351.8 727.3,352.0 729.3,352.2 731.3,352.4 733.3,352.6 735.3,352.8 737.3,353.0 739.3,353.2 741.3,353.5 743.3,353.8 745.3,354.1 747.3,354.4 749.3,354.7 751.3,355.1 753.3,355.4 755.3,355.8 757.3,356.2 759.3,356.6 761.3,357.0 763.3,357.4 765.3,357.9 767.3,358.3 769.3,358.8 771.3,359.3 773.3,359.7 775.3,360.2 777.3,360.7 779.3,361.2 781.3,361.7 783.3,362.3 785.3,362.8 787.3,363.3 789.3,363.9 791.3,364.4 793.3,364.9 795.3,365.5 797.3,366.0 799.3,366.6 801.3,367.2 803.3,367.8 805.3,368.4 807.3,369.0 809.3,369.6 811.3,370.3 813.3,370.9 815.3,371.6 817.3,372.2 819.3,372.9 821.3,373.5 823.3,374.2 825.3,374.8 827.3,375.5 829.3,376.1 831.3,376.7 833.3,377.4 835.3,378.0 837.3,378.6 839.3,379.2 841.3,379.8 843.3,380.4 845.3,381.0 847.3,381.5 849.3,382.1 851.3,382.6 853.3,383.1 855.3,383.6 857.3,384.0 859.3,384.5 861.3,384.9 863.3,385.4 865.3,385.8 867.3,386.2 869.3,386.6 871.3,387.0 873.3,387.4 875.3,387.8 877.3,388.1 879.3,388.5 881.3,388.9 883.3,389.2 885.3,389.5 887.3,389.9 889.3,390.2 891.3,390.5 893.3,390.9 895.3,391.2 897.3,391.5 899.3,391.8 901.3,392.2 903.3,392.5 905.3,392.8 907.3,393.1 909.3,393.4 911.3,393.7 913.3,394.1 915.3,394.4 917.3,394.7 919.3,395.0 921.3,395.4 923.3,395.7 925.3,396.0 927.3,396.3 929.3,396.6 931.3,396.9 933.3,397.2 935.3,397.5 937.3,397.8 939.3,398.1 941.3,398.3 943.3,398.6 945.3,398.9 947.3,399.2 949.3,399.5 951.3,399.7 953.3,400.0 955.3,400.3 957.3,400.6 959.3,400.9 961.3,401.2 963.3,401.5 965.3,401.8 967.3,402.1 969.3,402.4 971.3,402.7 973.3,403.1 975.3,403.4 977.3,403.7 979.3,404.1 981.3,404.5 983.3,404.9 985.3,405.3 987.3,405.7 989.3,406.2 991.3,406.7 993.3,407.2 995.3,407.7 997.3,408.3 999.3,408.8 1001.3,409.4 1003.3,410.0 1005.3,410.5 1007.3,411.1 1009.3,411.6 1011.3,412.1 1013.3,412.6 1015.3,413.1 1017.3,413.6 1019.3,414.0 1021.3,414.4 1023.3,414.7 1025.3,415.0 1027.3,415.3 1029.3,415.6 1031.3,415.8 1033.3,416.0 1035.3,416.2 1037.3,416.4 1039.3,416.6 1041.3,416.7 1043.3,416.8 1045.3,416.9 1047.3,417.0 1049.3,417.1 1051.3,417.2 1053.3,417.3 1055.3,417.3 1057.3,417.4 1059.3,417.5 1061.3,417.5 1063.3,417.5 1065.3,417.6 1067.3,417.6 1069.3,417.7 1071.3,417.7 1073.3,417.7 1075.3,417.7 1077.3,417.7 1079.3,417.6 1081.3,417.5 1083.3,417.5 1085.3,417.4 1087.3,417.3 1089.3,417.2 1091.3,417.1 1093.3,417.0 1095.3,416.9 1097.3,416.8 1099.3,416.8 1101.3,416.8 1103.3,416.8 1105.3,416.8 1107.3,416.7 1109.3,416.7 1111.3,416.7 1113.3,416.7 1115.3,416.7 1117.3,416.7 1119.3,416.7 1121.3,416.7 1123.3,416.7 1125.3,416.7 1127.3,416.7 1129.3,416.7 1131.3,416.7 1133.3,416.8 1135.3,416.8 1137.3,416.8 1139.3,416.8 1141.3,416.8 1143.3,416.8 1145.3,416.8 1147.3,416.8 1149.3,416.8 1151.3,416.8 1153.3,416.8 1155.3,416.8 1157.3,416.8 1159.3,416.8 1161.3,416.8 1163.3,416.8 1165.3,416.8 1167.3,416.8 1169.3,416.8 1171.3,416.8 1173.3,416.8 1175.3,416.7 1177.3,416.7 1179.3,416.7 1181.3,416.7 1183.3,416.7 1185.3,416.7 1187.3,416.7 1189.3,416.7 1191.3,416.7 1193.3,416.7 1195.3,416.6 1197.3,416.6 1199.3,416.6 1201.3,416.6 1203.3,416.6 1205.3,416.6 1207.3,416.6 1209.3,416.6 1211.3,416.5 1213.3,416.5 1215.3,416.5 1217.3,416.5 1219.3,416.5 1220.5,416.5" fill="none" stroke="#000" stroke-width="1" shape-rendering="crispEdges"/>
<text x="320" y="170.5" fill="#000" textLength="757" lengthAdjust="spacingAndGlyphs" class="note">rettangolo di compressione, long sopra 3,40 e macd confermerà con il taglio dello zero</text>
<text x="49.9" y="566.5" fill="#DAA520" textLength="58.3" lengthAdjust="spacing" style="font-size:9.4px">01-Feb-2017</text>
<text x="49.9" y="784.8" fill="#DAA520" textLength="58.3" lengthAdjust="spacing" style="font-size:9.4px">01-Feb-2017</text>
<text x="142.5" y="566.5" fill="#DAA520" textLength="59.5" lengthAdjust="spacing" style="font-size:9.4px">01-Mar-2017</text>
<text x="142.5" y="784.8" fill="#DAA520" textLength="59.5" lengthAdjust="spacing" style="font-size:9.4px">01-Mar-2017</text>
<text x="249.7" y="566.5" fill="#DAA520" textLength="57.2" lengthAdjust="spacing" style="font-size:9.4px">03-Apr-2017</text>
<text x="249.7" y="784.8" fill="#DAA520" textLength="57.2" lengthAdjust="spacing" style="font-size:9.4px">03-Apr-2017</text>
<text x="330.6" y="566.5" fill="#DAA520" textLength="62.2" lengthAdjust="spacing" style="font-size:9.4px">02-Mag-2017</text>
<text x="330.6" y="784.8" fill="#DAA520" textLength="62.2" lengthAdjust="spacing" style="font-size:9.4px">02-Mag-2017</text>
<text x="433.3" y="566.5" fill="#DAA520" textLength="58.3" lengthAdjust="spacing" style="font-size:9.4px">01-Giu-2017</text>
<text x="433.3" y="784.8" fill="#DAA520" textLength="58.3" lengthAdjust="spacing" style="font-size:9.4px">01-Giu-2017</text>
<text x="534.2" y="566.5" fill="#DAA520" textLength="59.6" lengthAdjust="spacing" style="font-size:9.4px">03-Lug-2017</text>
<text x="534.2" y="784.8" fill="#DAA520" textLength="59.6" lengthAdjust="spacing" style="font-size:9.4px">03-Lug-2017</text>
<text x="631.7" y="566.5" fill="#DAA520" textLength="60.3" lengthAdjust="spacing" style="font-size:9.4px">01-Ago-2017</text>
<text x="631.7" y="784.8" fill="#DAA520" textLength="60.3" lengthAdjust="spacing" style="font-size:9.4px">01-Ago-2017</text>
<text x="733.6" y="566.5" fill="#DAA520" textLength="56.9" lengthAdjust="spacing" style="font-size:9.4px">01-Set-2017</text>
<text x="733.6" y="784.8" fill="#DAA520" textLength="56.9" lengthAdjust="spacing" style="font-size:9.4px">01-Set-2017</text>
<text x="827.6" y="566.5" fill="#DAA520" textLength="54.6" lengthAdjust="spacing" style="font-size:9.4px">02-Ott-2017</text>
<text x="827.6" y="784.8" fill="#DAA520" textLength="54.6" lengthAdjust="spacing" style="font-size:9.4px">02-Ott-2017</text>
<text x="926.8" y="566.5" fill="#DAA520" textLength="58.6" lengthAdjust="spacing" style="font-size:9.4px">01-Nov-2017</text>
<text x="926.8" y="784.8" fill="#DAA520" textLength="58.6" lengthAdjust="spacing" style="font-size:9.4px">01-Nov-2017</text>
<text x="1029.7" y="566.5" fill="#DAA520" textLength="57.3" lengthAdjust="spacing" style="font-size:9.4px">01-Dic-2017</text>
<text x="1029.7" y="784.8" fill="#DAA520" textLength="57.3" lengthAdjust="spacing" style="font-size:9.4px">01-Dic-2017</text>
<text x="1114.6" y="566.5" fill="#DAA520" textLength="61.6" lengthAdjust="spacing" style="font-size:9.4px">02-Gen-2018</text>
<text x="1114.6" y="784.8" fill="#DAA520" textLength="61.6" lengthAdjust="spacing" style="font-size:9.4px">02-Gen-2018</text>
<text x="17.3" y="579.4" fill="#DAA520" textLength="30" lengthAdjust="spacingAndGlyphs">MACD</text>
<text x="67.6" y="579.4" fill="#DAA520" textLength="52.2" lengthAdjust="spacingAndGlyphs">(32 , 200) :</text>
<text x="128.2" y="579.4" fill="#b01020" textLength="43.2" lengthAdjust="spacingAndGlyphs">-0,32282</text>
<text x="186.4" y="579.4" fill="#DAA520" textLength="10.6" lengthAdjust="spacingAndGlyphs">9 :</text>
<text x="206.4" y="579.4" fill="#000" textLength="43.3" lengthAdjust="spacingAndGlyphs">-0,29629</text>
<text x="264.6" y="579.4" fill="#DAA520" textLength="21.7" lengthAdjust="spacingAndGlyphs">hist :</text>
<text x="295.6" y="579.4" fill="#000080" textLength="42.9" lengthAdjust="spacingAndGlyphs">-0,02653</text>
<text x="1300.2" y="586.8" fill="#DAA520" textLength="38.2" lengthAdjust="spacing" style="font-size:9.4px">0,61455</text>
<text x="1299.9" y="773.8" fill="#DAA520" textLength="42" lengthAdjust="spacing" style="font-size:9.4px">-0,34204</text>
<rect x="1299" y="673" width="53" height="15" fill="#0000ff"/>
<rect x="1299" y="688" width="53" height="14" fill="#ff0000"/>
<rect x="1299" y="702" width="53" height="14" fill="#000"/>
<text x="1308.1" y="683.7" fill="#fff" textLength="37.8" lengthAdjust="spacing" style="font-size:9.4px">0,00779</text>
<text x="1306.3" y="697.7" fill="#fff" textLength="39.9" lengthAdjust="spacing" style="font-size:9.4px">-0,01769</text>
<text x="1306.3" y="711.7" fill="#fff" textLength="39.9" lengthAdjust="spacing" style="font-size:9.4px">-0,02547</text>
<circle cx="1220.6" cy="706.8" r="14" fill="#ffff00" stroke="#e6c800" stroke-width="1"/>
<g shape-rendering="crispEdges">
<rect x="7" y="678" width="1" height="26" fill="#12128a"/>
<rect x="11" y="678" width="1" height="26" fill="#12128a"/>
<rect x="16" y="680" width="1" height="24" fill="#12128a"/>
<rect x="20" y="681" width="1" height="23" fill="#12128a"/>
<rect x="25" y="683" width="1" height="21" fill="#12128a"/>
<rect x="30" y="684" width="1" height="20" fill="#12128a"/>
<rect x="34" y="685" width="1" height="19" fill="#12128a"/>
<rect x="39" y="686" width="1" height="18" fill="#12128a"/>
<rect x="43" y="687" width="1" height="17" fill="#12128a"/>
<rect x="48" y="689" width="1" height="15" fill="#12128a"/>
<rect x="53" y="690" width="1" height="14" fill="#12128a"/>
<rect x="57" y="691" width="1" height="13" fill="#12128a"/>
<rect x="62" y="694" width="1" height="10" fill="#12128a"/>
<rect x="67" y="695" width="1" height="9" fill="#12128a"/>
<rect x="71" y="697" width="1" height="7" fill="#12128a"/>
<rect x="76" y="700" width="1" height="4" fill="#12128a"/>
<rect x="80" y="702" width="1" height="2" fill="#12128a"/>
<rect x="85" y="703" width="1" height="1" fill="#12128a"/>
<rect x="90" y="703" width="1" height="1" fill="#12128a"/>
<rect x="94" y="703" width="1" height="2" fill="#12128a"/>
<rect x="99" y="703" width="1" height="3" fill="#12128a"/>
<rect x="103" y="703" width="1" height="5" fill="#12128a"/>
<rect x="108" y="703" width="1" height="5" fill="#12128a"/>
<rect x="113" y="703" width="1" height="5" fill="#12128a"/>
<rect x="117" y="703" width="1" height="5" fill="#12128a"/>
<rect x="122" y="703" width="1" height="5" fill="#12128a"/>
<rect x="126" y="703" width="1" height="5" fill="#12128a"/>
<rect x="131" y="703" width="1" height="5" fill="#12128a"/>
<rect x="136" y="703" width="1" height="5" fill="#12128a"/>
<rect x="140" y="703" width="1" height="5" fill="#12128a"/>
<rect x="145" y="703" width="1" height="5" fill="#12128a"/>
<rect x="150" y="703" width="1" height="5" fill="#12128a"/>
<rect x="154" y="703" width="1" height="5" fill="#12128a"/>
<rect x="159" y="703" width="1" height="5" fill="#12128a"/>
<rect x="163" y="703" width="1" height="5" fill="#12128a"/>
<rect x="168" y="703" width="1" height="5" fill="#12128a"/>
<rect x="173" y="703" width="1" height="5" fill="#12128a"/>
<rect x="177" y="703" width="1" height="5" fill="#12128a"/>
<rect x="182" y="703" width="1" height="5" fill="#12128a"/>
<rect x="186" y="703" width="1" height="5" fill="#12128a"/>
<rect x="191" y="703" width="1" height="5" fill="#12128a"/>
<rect x="196" y="703" width="1" height="5" fill="#12128a"/>
<rect x="200" y="703" width="1" height="5" fill="#12128a"/>
<rect x="205" y="703" width="1" height="3" fill="#12128a"/>
<rect x="210" y="703" width="1" height="3" fill="#12128a"/>
<rect x="214" y="703" width="1" height="3" fill="#12128a"/>
<rect x="219" y="703" width="1" height="3" fill="#12128a"/>
<rect x="223" y="703" width="1" height="3" fill="#12128a"/>
<rect x="228" y="703" width="1" height="3" fill="#12128a"/>
<rect x="233" y="703" width="1" height="4" fill="#12128a"/>
<rect x="237" y="703" width="1" height="4" fill="#12128a"/>
<rect x="242" y="703" width="1" height="4" fill="#12128a"/>
<rect x="246" y="703" width="1" height="4" fill="#12128a"/>
<rect x="251" y="703" width="1" height="4" fill="#12128a"/>
<rect x="256" y="703" width="1" height="4" fill="#12128a"/>
<rect x="260" y="703" width="1" height="4" fill="#12128a"/>
<rect x="265" y="703" width="1" height="4" fill="#12128a"/>
<rect x="270" y="703" width="1" height="5" fill="#12128a"/>
<rect x="274" y="703" width="1" height="5" fill="#12128a"/>
<rect x="279" y="703" width="1" height="5" fill="#12128a"/>
<rect x="283" y="703" width="1" height="5" fill="#12128a"/>
<rect x="288" y="703" width="1" height="5" fill="#12128a"/>
<rect x="293" y="703" width="1" height="6" fill="#12128a"/>
<rect x="297" y="703" width="1" height="6" fill="#12128a"/>
<rect x="302" y="703" width="1" height="7" fill="#12128a"/>
<rect x="306" y="703" width="1" height="8" fill="#12128a"/>
<rect x="311" y="703" width="1" height="9" fill="#12128a"/>
<rect x="316" y="703" width="1" height="9" fill="#12128a"/>
<rect x="320" y="703" width="1" height="10" fill="#12128a"/>
<rect x="325" y="703" width="1" height="10" fill="#12128a"/>
<rect x="330" y="703" width="1" height="10" fill="#12128a"/>
<rect x="334" y="703" width="1" height="10" fill="#12128a"/>
<rect x="339" y="703" width="1" height="9" fill="#12128a"/>
<rect x="343" y="703" width="1" height="6" fill="#12128a"/>
<rect x="348" y="703" width="1" height="6" fill="#12128a"/>
<rect x="353" y="703" width="1" height="6" fill="#12128a"/>
<rect x="357" y="703" width="1" height="5" fill="#12128a"/>
<rect x="362" y="703" width="1" height="5" fill="#12128a"/>
<rect x="366" y="703" width="1" height="5" fill="#12128a"/>
<rect x="371" y="703" width="1" height="5" fill="#12128a"/>
<rect x="376" y="703" width="1" height="5" fill="#12128a"/>
<rect x="380" y="703" width="1" height="5" fill="#12128a"/>
<rect x="385" y="703" width="1" height="5" fill="#12128a"/>
<rect x="389" y="703" width="1" height="5" fill="#12128a"/>
<rect x="394" y="703" width="1" height="5" fill="#12128a"/>
<rect x="399" y="703" width="1" height="5" fill="#12128a"/>
<rect x="403" y="703" width="1" height="5" fill="#12128a"/>
<rect x="408" y="703" width="1" height="5" fill="#12128a"/>
<rect x="413" y="703" width="1" height="5" fill="#12128a"/>
<rect x="417" y="703" width="1" height="5" fill="#12128a"/>
<rect x="422" y="703" width="1" height="5" fill="#12128a"/>
<rect x="426" y="703" width="1" height="5" fill="#12128a"/>
<rect x="431" y="703" width="1" height="5" fill="#12128a"/>
<rect x="436" y="703" width="1" height="5" fill="#12128a"/>
<rect x="440" y="703" width="1" height="5" fill="#12128a"/>
<rect x="445" y="703" width="1" height="5" fill="#12128a"/>
<rect x="449" y="703" width="1" height="4" fill="#12128a"/>
<rect x="454" y="703" width="1" height="3" fill="#12128a"/>
<rect x="459" y="703" width="1" height="3" fill="#12128a"/>
<rect x="463" y="703" width="1" height="3" fill="#12128a"/>
<rect x="468" y="703" width="1" height="7" fill="#12128a"/>
<rect x="473" y="703" width="1" height="7" fill="#12128a"/>
<rect x="477" y="703" width="1" height="7" fill="#12128a"/>
<rect x="482" y="703" width="1" height="7" fill="#12128a"/>
<rect x="486" y="703" width="1" height="7" fill="#12128a"/>
<rect x="491" y="703" width="1" height="7" fill="#12128a"/>
<rect x="496" y="703" width="1" height="7" fill="#12128a"/>
<rect x="500" y="703" width="1" height="7" fill="#12128a"/>
<rect x="505" y="703" width="1" height="7" fill="#12128a"/>
<rect x="509" y="703" width="1" height="7" fill="#12128a"/>
<rect x="514" y="703" width="1" height="7" fill="#12128a"/>
<rect x="519" y="703" width="1" height="7" fill="#12128a"/>
<rect x="523" y="703" width="1" height="7" fill="#12128a"/>
<rect x="528" y="703" width="1" height="7" fill="#12128a"/>
<rect x="533" y="703" width="1" height="7" fill="#12128a"/>
<rect x="537" y="703" width="1" height="7" fill="#12128a"/>
<rect x="542" y="703" width="1" height="6" fill="#12128a"/>
<rect x="546" y="703" width="1" height="5" fill="#12128a"/>
<rect x="551" y="703" width="1" height="5" fill="#12128a"/>
<rect x="556" y="703" width="1" height="5" fill="#12128a"/>
<rect x="560" y="703" width="1" height="5" fill="#12128a"/>
<rect x="565" y="703" width="1" height="5" fill="#12128a"/>
<rect x="569" y="703" width="1" height="5" fill="#12128a"/>
<rect x="574" y="703" width="1" height="5" fill="#12128a"/>
<rect x="579" y="703" width="1" height="5" fill="#12128a"/>
<rect x="583" y="703" width="1" height="7" fill="#12128a"/>
<rect x="588" y="703" width="1" height="7" fill="#12128a"/>
<rect x="592" y="703" width="1" height="7" fill="#12128a"/>
<rect x="597" y="703" width="1" height="7" fill="#12128a"/>
<rect x="602" y="703" width="1" height="7" fill="#12128a"/>
<rect x="606" y="703" width="1" height="6" fill="#12128a"/>
<rect x="611" y="703" width="1" height="5" fill="#12128a"/>
<rect x="616" y="703" width="1" height="5" fill="#12128a"/>
<rect x="620" y="703" width="1" height="5" fill="#12128a"/>
<rect x="625" y="703" width="1" height="5" fill="#12128a"/>
<rect x="629" y="703" width="1" height="5" fill="#12128a"/>
<rect x="634" y="703" width="1" height="2" fill="#12128a"/>
<rect x="639" y="703" width="1" height="2" fill="#12128a"/>
<rect x="643" y="703" width="1" height="2" fill="#12128a"/>
<rect x="648" y="703" width="1" height="2" fill="#12128a"/>
<rect x="652" y="703" width="1" height="2" fill="#12128a"/>
<rect x="657" y="703" width="1" height="2" fill="#12128a"/>
<rect x="662" y="703" width="1" height="2" fill="#12128a"/>
<rect x="666" y="703" width="1" height="2" fill="#12128a"/>
<rect x="671" y="703" width="1" height="2" fill="#12128a"/>
<rect x="676" y="702" width="1" height="2" fill="#12128a"/>
<rect x="680" y="702" width="1" height="2" fill="#12128a"/>
<rect x="685" y="702" width="1" height="2" fill="#12128a"/>
<rect x="689" y="702" width="1" height="2" fill="#12128a"/>
<rect x="694" y="702" width="1" height="2" fill="#12128a"/>
<rect x="699" y="702" width="1" height="2" fill="#12128a"/>
<rect x="703" y="702" width="1" height="2" fill="#12128a"/>
<rect x="708" y="702" width="1" height="2" fill="#12128a"/>
<rect x="712" y="702" width="1" height="2" fill="#12128a"/>
<rect x="717" y="702" width="1" height="2" fill="#12128a"/>
<rect x="722" y="702" width="1" height="2" fill="#12128a"/>
<rect x="726" y="702" width="1" height="2" fill="#12128a"/>
<rect x="731" y="702" width="1" height="2" fill="#12128a"/>
<rect x="736" y="702" width="1" height="2" fill="#12128a"/>
<rect x="740" y="703" width="1" height="1" fill="#12128a"/>
<rect x="745" y="703" width="1" height="1" fill="#12128a"/>
<rect x="749" y="703" width="1" height="1" fill="#12128a"/>
<rect x="754" y="703" width="1" height="3" fill="#12128a"/>
<rect x="759" y="703" width="1" height="4" fill="#12128a"/>
<rect x="763" y="703" width="1" height="4" fill="#12128a"/>
<rect x="768" y="703" width="1" height="5" fill="#12128a"/>
<rect x="772" y="703" width="1" height="6" fill="#12128a"/>
<rect x="777" y="703" width="1" height="6" fill="#12128a"/>
<rect x="782" y="703" width="1" height="7" fill="#12128a"/>
<rect x="786" y="703" width="1" height="7" fill="#12128a"/>
<rect x="791" y="703" width="1" height="7" fill="#12128a"/>
<rect x="796" y="703" width="1" height="7" fill="#12128a"/>
<rect x="800" y="703" width="1" height="7" fill="#12128a"/>
<rect x="805" y="703" width="1" height="8" fill="#12128a"/>
<rect x="809" y="703" width="1" height="8" fill="#12128a"/>
<rect x="814" y="703" width="1" height="8" fill="#12128a"/>
<rect x="819" y="703" width="1" height="8" fill="#12128a"/>
<rect x="823" y="703" width="1" height="8" fill="#12128a"/>
<rect x="828" y="703" width="1" height="8" fill="#12128a"/>
<rect x="832" y="703" width="1" height="7" fill="#12128a"/>
<rect x="837" y="703" width="1" height="7" fill="#12128a"/>
<rect x="842" y="703" width="1" height="6" fill="#12128a"/>
<rect x="846" y="703" width="1" height="6" fill="#12128a"/>
<rect x="851" y="703" width="1" height="6" fill="#12128a"/>
<rect x="855" y="703" width="1" height="5" fill="#12128a"/>
<rect x="860" y="703" width="1" height="5" fill="#12128a"/>
<rect x="865" y="703" width="1" height="4" fill="#12128a"/>
<rect x="869" y="703" width="1" height="4" fill="#12128a"/>
<rect x="874" y="703" width="1" height="3" fill="#12128a"/>
<rect x="879" y="703" width="1" height="1" fill="#12128a"/>
<rect x="883" y="703" width="1" height="1" fill="#12128a"/>
<rect x="888" y="702" width="1" height="2" fill="#12128a"/>
<rect x="892" y="701" width="1" height="3" fill="#12128a"/>
<rect x="897" y="701" width="1" height="3" fill="#12128a"/>
<rect x="902" y="700" width="1" height="4" fill="#12128a"/>
<rect x="906" y="700" width="1" height="4" fill="#12128a"/>
<rect x="911" y="700" width="1" height="4" fill="#12128a"/>
<rect x="915" y="700" width="1" height="4" fill="#12128a"/>
<rect x="920" y="700" width="1" height="4" fill="#12128a"/>
<rect x="925" y="700" width="1" height="4" fill="#12128a"/>
<rect x="929" y="700" width="1" height="4" fill="#12128a"/>
<rect x="934" y="701" width="1" height="3" fill="#12128a"/>
<rect x="939" y="701" width="1" height="3" fill="#12128a"/>
<rect x="943" y="701" width="1" height="3" fill="#12128a"/>
<rect x="948" y="701" width="1" height="3" fill="#12128a"/>
<rect x="952" y="701" width="1" height="3" fill="#12128a"/>
<rect x="957" y="701" width="1" height="3" fill="#12128a"/>
<rect x="962" y="701" width="1" height="3" fill="#12128a"/>
<rect x="966" y="701" width="1" height="3" fill="#12128a"/>
<rect x="971" y="701" width="1" height="3" fill="#12128a"/>
<rect x="975" y="702" width="1" height="2" fill="#12128a"/>
<rect x="980" y="703" width="1" height="1" fill="#12128a"/>
<rect x="985" y="703" width="1" height="1" fill="#12128a"/>
<rect x="989" y="703" width="1" height="2" fill="#12128a"/>
<rect x="994" y="703" width="1" height="2" fill="#12128a"/>
<rect x="999" y="703" width="1" height="2" fill="#12128a"/>
<rect x="1003" y="703" width="1" height="2" fill="#12128a"/>
<rect x="1008" y="703" width="1" height="2" fill="#12128a"/>
<rect x="1012" y="703" width="1" height="2" fill="#12128a"/>
<rect x="1017" y="703" width="1" height="1" fill="#12128a"/>
<rect x="1022" y="703" width="1" height="1" fill="#12128a"/>
<rect x="1026" y="703" width="1" height="1" fill="#12128a"/>
<rect x="1031" y="702" width="1" height="2" fill="#12128a"/>
<rect x="1035" y="701" width="1" height="3" fill="#12128a"/>
<rect x="1040" y="700" width="1" height="4" fill="#12128a"/>
<rect x="1045" y="700" width="1" height="4" fill="#12128a"/>
<rect x="1049" y="700" width="1" height="4" fill="#12128a"/>
<rect x="1054" y="699" width="1" height="5" fill="#12128a"/>
<rect x="1059" y="699" width="1" height="5" fill="#12128a"/>
<rect x="1063" y="698" width="1" height="6" fill="#12128a"/>
<rect x="1068" y="698" width="1" height="6" fill="#12128a"/>
<rect x="1072" y="697" width="1" height="7" fill="#12128a"/>
<rect x="1077" y="697" width="1" height="7" fill="#12128a"/>
<rect x="1082" y="697" width="1" height="7" fill="#12128a"/>
<rect x="1086" y="696" width="1" height="8" fill="#12128a"/>
<rect x="1091" y="696" width="1" height="8" fill="#12128a"/>
<rect x="1095" y="696" width="1" height="8" fill="#12128a"/>
<rect x="1100" y="697" width="1" height="7" fill="#12128a"/>
<rect x="1105" y="697" width="1" height="7" fill="#12128a"/>
<rect x="1109" y="697" width="1" height="7" fill="#12128a"/>
<rect x="1114" y="697" width="1" height="7" fill="#12128a"/>
<rect x="1118" y="698" width="1" height="6" fill="#12128a"/>
<rect x="1123" y="698" width="1" height="6" fill="#12128a"/>
<rect x="1128" y="698" width="1" height="6" fill="#12128a"/>
<rect x="1132" y="698" width="1" height="6" fill="#12128a"/>
<rect x="1137" y="698" width="1" height="6" fill="#12128a"/>
<rect x="1142" y="699" width="1" height="5" fill="#12128a"/>
<rect x="1146" y="699" width="1" height="5" fill="#12128a"/>
<rect x="1151" y="699" width="1" height="5" fill="#12128a"/>
<rect x="1155" y="699" width="1" height="5" fill="#12128a"/>
<rect x="1160" y="699" width="1" height="5" fill="#12128a"/>
<rect x="1165" y="699" width="1" height="5" fill="#12128a"/>
<rect x="1169" y="699" width="1" height="5" fill="#12128a"/>
<rect x="1174" y="700" width="1" height="4" fill="#12128a"/>
<rect x="1178" y="700" width="1" height="4" fill="#12128a"/>
<rect x="1183" y="700" width="1" height="4" fill="#12128a"/>
<rect x="1188" y="700" width="1" height="4" fill="#12128a"/>
<rect x="1192" y="701" width="1" height="3" fill="#12128a"/>
<rect x="1197" y="701" width="1" height="3" fill="#12128a"/>
<rect x="1202" y="702" width="1" height="2" fill="#12128a"/>
<rect x="1206" y="702" width="1" height="2" fill="#12128a"/>
<rect x="1211" y="702" width="1" height="2" fill="#12128a"/>
<rect x="1215" y="703" width="1" height="1" fill="#12128a"/>
<rect x="1220" y="703" width="1" height="1" fill="#12128a"/>
</g>
<polyline points="7.0,650.9 9.0,647.0 11.0,643.1 13.0,639.8 15.0,637.0 17.0,634.3 19.0,631.9 21.0,629.5 23.0,627.1 25.0,624.8 27.0,622.5 29.0,620.3 31.0,618.2 33.0,616.2 35.0,614.3 37.0,612.4 39.0,610.6 41.0,608.9 43.0,607.2 45.0,605.6 47.0,604.0 49.0,602.4 51.0,600.9 53.0,599.5 55.0,598.3 57.0,597.1 59.0,596.1 61.0,595.1 63.0,594.1 65.0,593.3 67.0,592.5 69.0,591.8 71.0,591.1 73.0,590.6 75.0,590.1 77.0,589.7 79.0,589.4 81.0,589.1 83.0,589.0 85.0,588.8 87.0,588.8 89.0,589.0 91.0,589.3 93.0,589.6 95.0,590.0 97.0,590.3 99.0,590.7 101.0,591.1 103.0,591.5 105.0,591.9 107.0,592.4 109.0,592.8 111.0,593.3 113.0,593.7 115.0,594.2 117.0,594.7 119.0,595.2 121.0,595.7 123.0,596.1 125.0,596.6 127.0,597.1 129.0,597.6 131.0,598.2 133.0,598.8 135.0,599.6 137.0,600.3 139.0,601.0 141.0,601.4 143.0,601.8 145.0,602.0 147.0,602.2 149.0,602.3 151.0,602.4 153.0,602.7 155.0,602.9 157.0,603.4 159.0,604.0 161.0,604.7 163.0,605.4 165.0,606.1 167.0,606.7 169.0,607.1 171.0,607.6 173.0,608.0 175.0,608.4 177.0,608.8 179.0,609.2 181.0,609.7 183.0,610.1 185.0,610.6 187.0,611.2 189.0,611.8 191.0,612.6 193.0,613.4 195.0,614.1 197.0,614.8 199.0,615.3 201.0,615.6 203.0,615.9 205.0,616.1 207.0,616.3 209.0,616.5 211.0,616.7 213.0,616.8 215.0,617.0 217.0,617.3 219.0,617.5 221.0,617.8 223.0,618.0 225.0,618.2 227.0,618.4 229.0,618.7 231.0,618.9 233.0,619.2 235.0,619.5 237.0,619.9 239.0,620.2 241.0,620.6 243.0,621.1 245.0,621.5 247.0,622.0 249.0,622.5 251.0,623.1 253.0,623.6 255.0,624.1 257.0,624.7 259.0,625.2 261.0,625.7 263.0,626.1 265.0,626.6 267.0,627.0 269.0,627.4 271.0,627.8 273.0,628.3 275.0,628.7 277.0,629.1 279.0,629.6 281.0,630.0 283.0,630.5 285.0,631.0 287.0,631.6 289.0,632.2 291.0,632.8 293.0,633.5 295.0,634.2 297.0,634.9 299.0,635.6 301.0,636.2 303.0,636.9 305.0,637.6 307.0,638.4 309.0,639.2 311.0,640.0 313.0,640.9 315.0,641.9 317.0,642.9 319.0,644.0 321.0,645.1 323.0,646.2 325.0,647.3 327.0,648.4 329.0,649.5 331.0,650.6 333.0,651.8 335.0,652.9 337.0,653.8 339.0,654.7 341.0,655.3 343.0,655.9 345.0,656.4 347.0,656.9 349.0,657.3 351.0,657.7 353.0,658.1 355.0,658.5 357.0,658.9 359.0,659.3 361.0,659.6 363.0,660.0 365.0,660.4 367.0,660.8 369.0,661.3 371.0,661.7 373.0,662.2 375.0,662.7 377.0,663.1 379.0,663.6 381.0,664.1 383.0,664.5 385.0,665.0 387.0,665.5 389.0,665.9 391.0,666.4 393.0,666.8 395.0,667.3 397.0,667.7 399.0,668.2 401.0,668.6 403.0,669.0 405.0,669.5 407.0,669.9 409.0,670.4 411.0,670.8 413.0,671.2 415.0,671.7 417.0,672.1 419.0,672.5 421.0,673.0 423.0,673.4 425.0,673.8 427.0,674.3 429.0,674.7 431.0,675.2 433.0,675.6 435.0,676.0 437.0,676.5 439.0,676.8 441.0,677.2 443.0,677.6 445.0,677.8 447.0,678.0 449.0,678.1 451.0,678.2 453.0,678.3 455.0,678.5 457.0,678.8 459.0,679.1 461.0,679.4 463.0,679.8 465.0,680.2 467.0,680.7 469.0,681.3 471.0,682.0 473.0,682.8 475.0,683.6 477.0,684.5 479.0,685.3 481.0,686.2 483.0,687.0 485.0,687.8 487.0,688.5 489.0,689.2 491.0,689.8 493.0,690.4 495.0,691.0 497.0,691.6 499.0,692.2 501.0,692.8 503.0,693.4 505.0,694.1 507.0,694.7 509.0,695.4 511.0,696.1 513.0,696.8 515.0,697.6 517.0,698.3 519.0,699.0 521.0,699.6 523.0,700.3 525.0,700.9 527.0,701.4 529.0,701.9 531.0,702.3 533.0,702.7 535.0,703.0 537.0,703.4 539.0,703.7 541.0,704.0 543.0,704.4 545.0,704.7 547.0,705.1 549.0,705.5 551.0,705.8 553.0,706.2 555.0,706.6 557.0,707.0 559.0,707.3 561.0,707.7 563.0,708.1 565.0,708.5 567.0,708.8 569.0,709.2 571.0,709.6 573.0,710.0 575.0,710.4 577.0,710.9 579.0,711.5 581.0,712.1 583.0,712.8 585.0,713.5 587.0,714.2 589.0,714.9 591.0,715.6 593.0,716.3 595.0,717.1 597.0,717.9 599.0,718.8 601.0,719.6 603.0,720.4 605.0,721.1 607.0,721.7 609.0,722.2 611.0,722.8 613.0,723.2 615.0,723.7 617.0,724.2 619.0,724.6 621.0,725.0 623.0,725.5 625.0,725.8 627.0,726.2 629.0,726.6 631.0,727.0 633.0,727.3 635.0,727.6 637.0,727.9 639.0,728.2 641.0,728.4 643.0,728.6 645.0,728.8 647.0,729.0 649.0,729.3 651.0,729.5 653.0,729.7 655.0,730.0 657.0,730.4 659.0,730.7 661.0,731.0 663.0,731.3 665.0,731.6 667.0,731.9 669.0,732.1 671.0,732.2 673.0,732.2 675.0,732.1 677.0,731.9 679.0,731.6 681.0,731.2 683.0,730.8 685.0,730.4 687.0,730.0 689.0,729.7 691.0,729.5 693.0,729.3 695.0,729.2 697.0,729.1 699.0,729.0 701.0,728.9 703.0,728.8 705.0,728.7 707.0,728.6 709.0,728.5 711.0,728.4 713.0,728.2 715.0,728.1 717.0,727.9 719.0,727.8 721.0,727.6 723.0,727.5 725.0,727.3 727.0,727.2 729.0,727.1 731.0,727.1 733.0,727.1 735.0,727.0 737.0,727.1 739.0,727.1 741.0,727.2 743.0,727.3 745.0,727.5 747.0,727.8 749.0,728.1 751.0,728.5 753.0,728.9 755.0,729.4 757.0,729.9 759.0,730.4 761.0,731.0 763.0,731.6 765.0,732.3 767.0,733.0 769.0,733.7 771.0,734.5 773.0,735.2 775.0,735.9 777.0,736.6 779.0,737.3 781.0,738.0 783.0,738.6 785.0,739.1 787.0,739.6 789.0,740.1 791.0,740.7 793.0,741.3 795.0,741.9 797.0,742.7 799.0,743.5 801.0,744.3 803.0,745.2 805.0,746.0 807.0,746.9 809.0,747.8 811.0,748.7 813.0,749.6 815.0,750.5 817.0,751.4 819.0,752.2 821.0,753.0 823.0,753.8 825.0,754.5 827.0,755.3 829.0,756.0 831.0,756.7 833.0,757.4 835.0,758.1 837.0,758.7 839.0,759.4 841.0,760.0 843.0,760.7 845.0,761.3 847.0,761.9 849.0,762.4 851.0,762.9 853.0,763.3 855.0,763.7 857.0,764.1 859.0,764.5 861.0,764.9 863.0,765.3 865.0,765.7 867.0,766.2 869.0,766.7 871.0,767.1 873.0,767.5 875.0,767.8 877.0,768.0 879.0,768.1 881.0,768.0 883.0,767.7 885.0,767.2 887.0,766.7 889.0,766.2 891.0,765.7 893.0,765.3 895.0,764.9 897.0,764.4 899.0,764.0 901.0,763.6 903.0,763.2 905.0,762.8 907.0,762.4 909.0,762.0 911.0,761.7 913.0,761.4 915.0,761.0 917.0,760.8 919.0,760.5 921.0,760.2 923.0,759.9 925.0,759.7 927.0,759.4 929.0,759.2 931.0,758.9 933.0,758.6 935.0,758.4 937.0,758.1 939.0,757.7 941.0,757.4 943.0,757.1 945.0,756.7 947.0,756.4 949.0,756.0 951.0,755.7 953.0,755.3 955.0,755.0 957.0,754.7 959.0,754.4 961.0,754.1 963.0,753.9 965.0,753.6 967.0,753.4 969.0,753.3 971.0,753.1 973.0,753.0 975.0,752.9 977.0,752.9 979.0,752.8 981.0,752.8 983.0,752.9 985.0,753.0 987.0,753.2 989.0,753.4 991.0,753.6 993.0,754.0 995.0,754.3 997.0,754.7 999.0,755.1 1001.0,755.5 1003.0,755.8 1005.0,756.1 1007.0,756.3 1009.0,756.5 1011.0,756.6 1013.0,756.7 1015.0,756.7 1017.0,756.6 1019.0,756.5 1021.0,756.4 1023.0,756.2 1025.0,756.1 1027.0,755.9 1029.0,755.7 1031.0,755.5 1033.0,755.2 1035.0,754.9 1037.0,754.6 1039.0,754.3 1041.0,753.9 1043.0,753.4 1045.0,752.8 1047.0,752.2 1049.0,751.5 1051.0,750.8 1053.0,750.1 1055.0,749.4 1057.0,748.8 1059.0,748.2 1061.0,747.6 1063.0,747.1 1065.0,746.6 1067.0,746.1 1069.0,745.5 1071.0,745.0 1073.0,744.3 1075.0,743.7 1077.0,742.9 1079.0,742.1 1081.0,741.3 1083.0,740.4 1085.0,739.4 1087.0,738.5 1089.0,737.6 1091.0,736.7 1093.0,735.9 1095.0,735.2 1097.0,734.5 1099.0,733.8 1101.0,733.2 1103.0,732.5 1105.0,731.9 1107.0,731.3 1109.0,730.6 1111.0,730.0 1113.0,729.3 1115.0,728.7 1117.0,728.0 1119.0,727.3 1121.0,726.7 1123.0,726.1 1125.0,725.5 1127.0,724.9 1129.0,724.4 1131.0,724.0 1133.0,723.6 1135.0,723.2 1137.0,722.9 1139.0,722.5 1141.0,722.2 1143.0,721.9 1145.0,721.5 1147.0,721.1 1149.0,720.7 1151.0,720.1 1153.0,719.6 1155.0,719.0 1157.0,718.4 1159.0,717.8 1161.0,717.2 1163.0,716.6 1165.0,716.1 1167.0,715.6 1169.0,715.1 1171.0,714.7 1173.0,714.3 1175.0,713.9 1177.0,713.5 1179.0,713.2 1181.0,712.8 1183.0,712.5 1185.0,712.2 1187.0,711.9 1189.0,711.6 1191.0,711.4 1193.0,711.2 1195.0,711.0 1197.0,710.9 1199.0,710.7 1201.0,710.5 1203.0,710.4 1205.0,710.2 1207.0,710.0 1209.0,709.9 1211.0,709.7 1213.0,709.6 1215.0,709.4 1217.0,709.2 1219.0,709.1 1220.1,709.0" fill="none" stroke="#000" stroke-width="1" shape-rendering="crispEdges"/>
<polyline points="7.0,624.8 9.0,622.0 11.0,619.2 13.0,616.7 15.0,614.4 17.0,612.1 19.0,610.0 21.0,608.1 23.0,606.3 25.0,604.6 27.0,603.1 29.0,601.6 31.0,600.1 33.0,598.7 35.0,597.3 37.0,595.9 39.0,594.5 41.0,593.2 43.0,591.9 45.0,590.7 47.0,589.4 49.0,588.1 51.0,586.9 53.0,585.9 55.0,585.1 57.0,584.6 59.0,584.2 61.0,584.0 63.0,583.9 65.0,583.9 67.0,583.8 69.0,583.8 71.0,583.8 73.0,583.9 75.0,584.3 77.0,585.0 79.0,585.9 81.0,586.8 83.0,587.7 85.0,588.6 87.0,589.4 89.0,590.1 91.0,590.9 93.0,591.6 95.0,592.4 97.0,593.2 99.0,594.0 101.0,594.9 103.0,595.7 105.0,596.5 107.0,597.3 109.0,597.9 111.0,598.3 113.0,598.6 115.0,598.9 117.0,599.3 119.0,599.7 121.0,600.2 123.0,601.0 125.0,602.0 127.0,603.0 129.0,603.8 131.0,604.4 133.0,604.8 135.0,605.0 137.0,605.1 139.0,605.1 141.0,605.2 143.0,605.3 145.0,605.5 147.0,605.9 149.0,606.4 151.0,607.0 153.0,607.7 155.0,608.3 157.0,609.0 159.0,609.6 161.0,610.2 163.0,610.7 165.0,611.1 167.0,611.5 169.0,611.9 171.0,612.3 173.0,612.8 175.0,613.2 177.0,613.8 179.0,614.4 181.0,615.2 183.0,615.9 185.0,616.6 187.0,617.3 189.0,617.8 191.0,618.2 193.0,618.4 195.0,618.5 197.0,618.6 199.0,618.6 201.0,618.5 203.0,618.4 205.0,618.4 207.0,618.3 209.0,618.3 211.0,618.3 213.0,618.4 215.0,618.6 217.0,618.8 219.0,619.1 221.0,619.4 223.0,619.7 225.0,620.0 227.0,620.4 229.0,620.8 231.0,621.2 233.0,621.6 235.0,622.0 237.0,622.4 239.0,622.9 241.0,623.4 243.0,624.0 245.0,624.6 247.0,625.2 249.0,625.8 251.0,626.4 253.0,626.9 255.0,627.5 257.0,628.0 259.0,628.6 261.0,629.1 263.0,629.7 265.0,630.2 267.0,630.8 269.0,631.4 271.0,631.9 273.0,632.5 275.0,633.0 277.0,633.6 279.0,634.1 281.0,634.7 283.0,635.3 285.0,636.0 287.0,636.7 289.0,637.6 291.0,638.5 293.0,639.5 295.0,640.6 297.0,641.6 299.0,642.7 301.0,643.7 303.0,644.7 305.0,645.6 307.0,646.6 309.0,647.5 311.0,648.5 313.0,649.6 315.0,650.8 317.0,652.3 319.0,653.9 321.0,655.6 323.0,657.1 325.0,658.3 327.0,659.3 329.0,660.1 331.0,660.7 333.0,661.2 335.0,661.4 337.0,661.5 339.0,661.5 341.0,661.3 343.0,661.2 345.0,660.7 347.0,660.1 349.0,660.0 351.0,660.3 353.0,660.7 355.0,661.2 357.0,661.8 359.0,662.4 361.0,663.0 363.0,663.6 365.0,664.2 367.0,664.9 369.0,665.6 371.0,666.2 373.0,666.8 375.0,667.2 377.0,667.6 379.0,667.8 381.0,668.0 383.0,668.2 385.0,668.3 387.0,668.4 389.0,668.5 391.0,668.7 393.0,668.9 395.0,669.2 397.0,669.7 399.0,670.3 401.0,671.1 403.0,671.8 405.0,672.5 407.0,673.0 409.0,673.4 411.0,673.8 413.0,674.2 415.0,674.6 417.0,674.9 419.0,675.3 421.0,675.7 423.0,676.2 425.0,676.6 427.0,677.2 429.0,678.0 431.0,678.8 433.0,679.6 435.0,680.3 437.0,680.9 439.0,681.2 441.0,681.2 443.0,681.1 445.0,680.9 447.0,680.6 449.0,680.4 451.0,680.4 453.0,680.6 455.0,681.0 457.0,681.5 459.0,682.1 461.0,682.8 463.0,683.6 465.0,684.4 467.0,685.3 469.0,686.1 471.0,687.0 473.0,687.9 475.0,688.8 477.0,689.8 479.0,690.8 481.0,691.8 483.0,692.8 485.0,693.8 487.0,694.6 489.0,695.4 491.0,696.1 493.0,696.7 495.0,697.3 497.0,697.9 499.0,698.4 501.0,698.9 503.0,699.4 505.0,699.9 507.0,700.5 509.0,701.0 511.0,701.6 513.0,702.2 515.0,702.8 517.0,703.3 519.0,703.8 521.0,704.4 523.0,704.8 525.0,705.3 527.0,705.7 529.0,706.2 531.0,706.6 533.0,707.0 535.0,707.4 537.0,707.7 539.0,708.1 541.0,708.4 543.0,708.7 545.0,709.0 547.0,709.1 549.0,709.3 551.0,709.4 553.0,709.5 555.0,709.6 557.0,709.7 559.0,709.9 561.0,710.2 563.0,710.6 565.0,711.0 567.0,711.5 569.0,712.0 571.0,712.6 573.0,713.3 575.0,714.0 577.0,714.8 579.0,715.8 581.0,716.8 583.0,717.9 585.0,719.1 587.0,720.2 589.0,721.4 591.0,722.5 593.0,723.5 595.0,724.5 597.0,725.2 599.0,725.8 601.0,726.0 603.0,726.2 605.0,726.3 607.0,726.4 609.0,726.6 611.0,726.9 613.0,727.3 615.0,727.7 617.0,728.1 619.0,728.5 621.0,729.0 623.0,729.4 625.0,729.7 627.0,730.1 629.0,730.4 631.0,730.6 633.0,730.8 635.0,730.9 637.0,731.0 639.0,731.1 641.0,731.2 643.0,731.3 645.0,731.3 647.0,731.4 649.0,731.5 651.0,731.5 653.0,731.5 655.0,731.5 657.0,731.6 659.0,731.6 661.0,731.8 663.0,732.1 665.0,732.4 667.0,732.8 669.0,732.9 671.0,732.8 673.0,732.6 675.0,732.3 677.0,732.0 679.0,731.6 681.0,731.2 683.0,730.8 685.0,730.4 687.0,730.1 689.0,729.9 691.0,729.6 693.0,729.3 695.0,729.1 697.0,728.8 699.0,728.5 701.0,728.3 703.0,728.0 705.0,727.7 707.0,727.5 709.0,727.2 711.0,726.9 713.0,726.7 715.0,726.5 717.0,726.4 719.0,726.4 721.0,726.4 723.0,726.4 725.0,726.4 727.0,726.5 729.0,726.5 731.0,726.7 733.0,726.8 735.0,727.0 737.0,727.2 739.0,727.4 741.0,727.7 743.0,728.1 745.0,728.7 747.0,729.5 749.0,730.3 751.0,731.1 753.0,732.0 755.0,732.9 757.0,733.8 759.0,734.8 761.0,735.8 763.0,736.7 765.0,737.6 767.0,738.5 769.0,739.4 771.0,740.3 773.0,741.1 775.0,741.9 777.0,742.6 779.0,743.2 781.0,743.7 783.0,744.0 785.0,744.3 787.0,744.5 789.0,744.9 791.0,745.3 793.0,745.9 795.0,746.7 797.0,747.6 799.0,748.5 801.0,749.6 803.0,750.7 805.0,751.8 807.0,752.8 809.0,753.9 811.0,754.8 813.0,755.8 815.0,756.7 817.0,757.6 819.0,758.5 821.0,759.4 823.0,760.2 825.0,761.0 827.0,761.8 829.0,762.5 831.0,763.1 833.0,763.6 835.0,764.1 837.0,764.6 839.0,765.1 841.0,765.5 843.0,765.9 845.0,766.3 847.0,766.8 849.0,767.3 851.0,767.8 853.0,768.2 855.0,768.7 857.0,769.1 859.0,769.5 861.0,769.9 863.0,770.2 865.0,770.5 867.0,770.8 869.0,771.1 871.0,771.2 873.0,771.2 875.0,770.9 877.0,770.2 879.0,769.2 881.0,768.2 883.0,767.3 885.0,766.4 887.0,765.4 889.0,764.4 891.0,763.5 893.0,762.6 895.0,761.9 897.0,761.3 899.0,760.7 901.0,760.2 903.0,759.8 905.0,759.4 907.0,759.0 909.0,758.7 911.0,758.5 913.0,758.3 915.0,758.1 917.0,757.9 919.0,757.7 921.0,757.6 923.0,757.4 925.0,757.2 927.0,757.0 929.0,756.9 931.0,756.7 933.0,756.5 935.0,756.3 937.0,756.2 939.0,755.9 941.0,755.7 943.0,755.4 945.0,755.1 947.0,754.7 949.0,754.3 951.0,753.8 953.0,753.4 955.0,753.1 957.0,752.8 959.0,752.5 961.0,752.2 963.0,751.9 965.0,751.7 967.0,751.5 969.0,751.4 971.0,751.3 973.0,751.3 975.0,751.4 977.0,751.7 979.0,751.9 981.0,752.3 983.0,752.7 985.0,753.1 987.0,753.7 989.0,754.3 991.0,755.0 993.0,755.6 995.0,756.2 997.0,756.9 999.0,757.5 1001.0,757.9 1003.0,758.1 1005.0,758.2 1007.0,758.1 1009.0,758.0 1011.0,757.8 1013.0,757.6 1015.0,757.3 1017.0,757.1 1019.0,756.8 1021.0,756.4 1023.0,756.0 1025.0,755.6 1027.0,755.0 1029.0,754.4 1031.0,753.7 1033.0,752.9 1035.0,752.1 1037.0,751.3 1039.0,750.4 1041.0,749.6 1043.0,748.7 1045.0,747.9 1047.0,747.1 1049.0,746.4 1051.0,745.6 1053.0,744.9 1055.0,744.2 1057.0,743.6 1059.0,742.9 1061.0,742.2 1063.0,741.5 1065.0,740.7 1067.0,739.9 1069.0,739.1 1071.0,738.2 1073.0,737.3 1075.0,736.4 1077.0,735.5 1079.0,734.6 1081.0,733.7 1083.0,732.8 1085.0,731.8 1087.0,730.9 1089.0,730.0 1091.0,729.2 1093.0,728.4 1095.0,727.8 1097.0,727.3 1099.0,726.8 1101.0,726.3 1103.0,725.8 1105.0,725.4 1107.0,724.9 1109.0,724.4 1111.0,723.8 1113.0,723.2 1115.0,722.6 1117.0,722.0 1119.0,721.4 1121.0,720.8 1123.0,720.3 1125.0,719.8 1127.0,719.3 1129.0,719.0 1131.0,718.6 1133.0,718.3 1135.0,718.1 1137.0,717.8 1139.0,717.5 1141.0,717.2 1143.0,716.9 1145.0,716.5 1147.0,716.0 1149.0,715.5 1151.0,715.0 1153.0,714.4 1155.0,713.7 1157.0,713.1 1159.0,712.5 1161.0,711.9 1163.0,711.4 1165.0,711.0 1167.0,710.7 1169.0,710.4 1171.0,710.2 1173.0,710.0 1175.0,709.9 1177.0,709.8 1179.0,709.7 1181.0,709.7 1183.0,709.6 1185.0,709.6 1187.0,709.5 1189.0,709.4 1191.0,709.3 1193.0,709.2 1195.0,709.1 1197.0,709.1 1199.0,709.0 1201.0,709.0 1203.0,708.9 1205.0,708.8 1207.0,708.8 1209.0,708.7 1211.0,708.7 1213.0,708.6 1215.0,708.6 1217.0,708.6 1219.0,708.5 1220.1,708.5" fill="none" stroke="#c4141e" stroke-width="1" shape-rendering="crispEdges"/>
</svg></body></html>
